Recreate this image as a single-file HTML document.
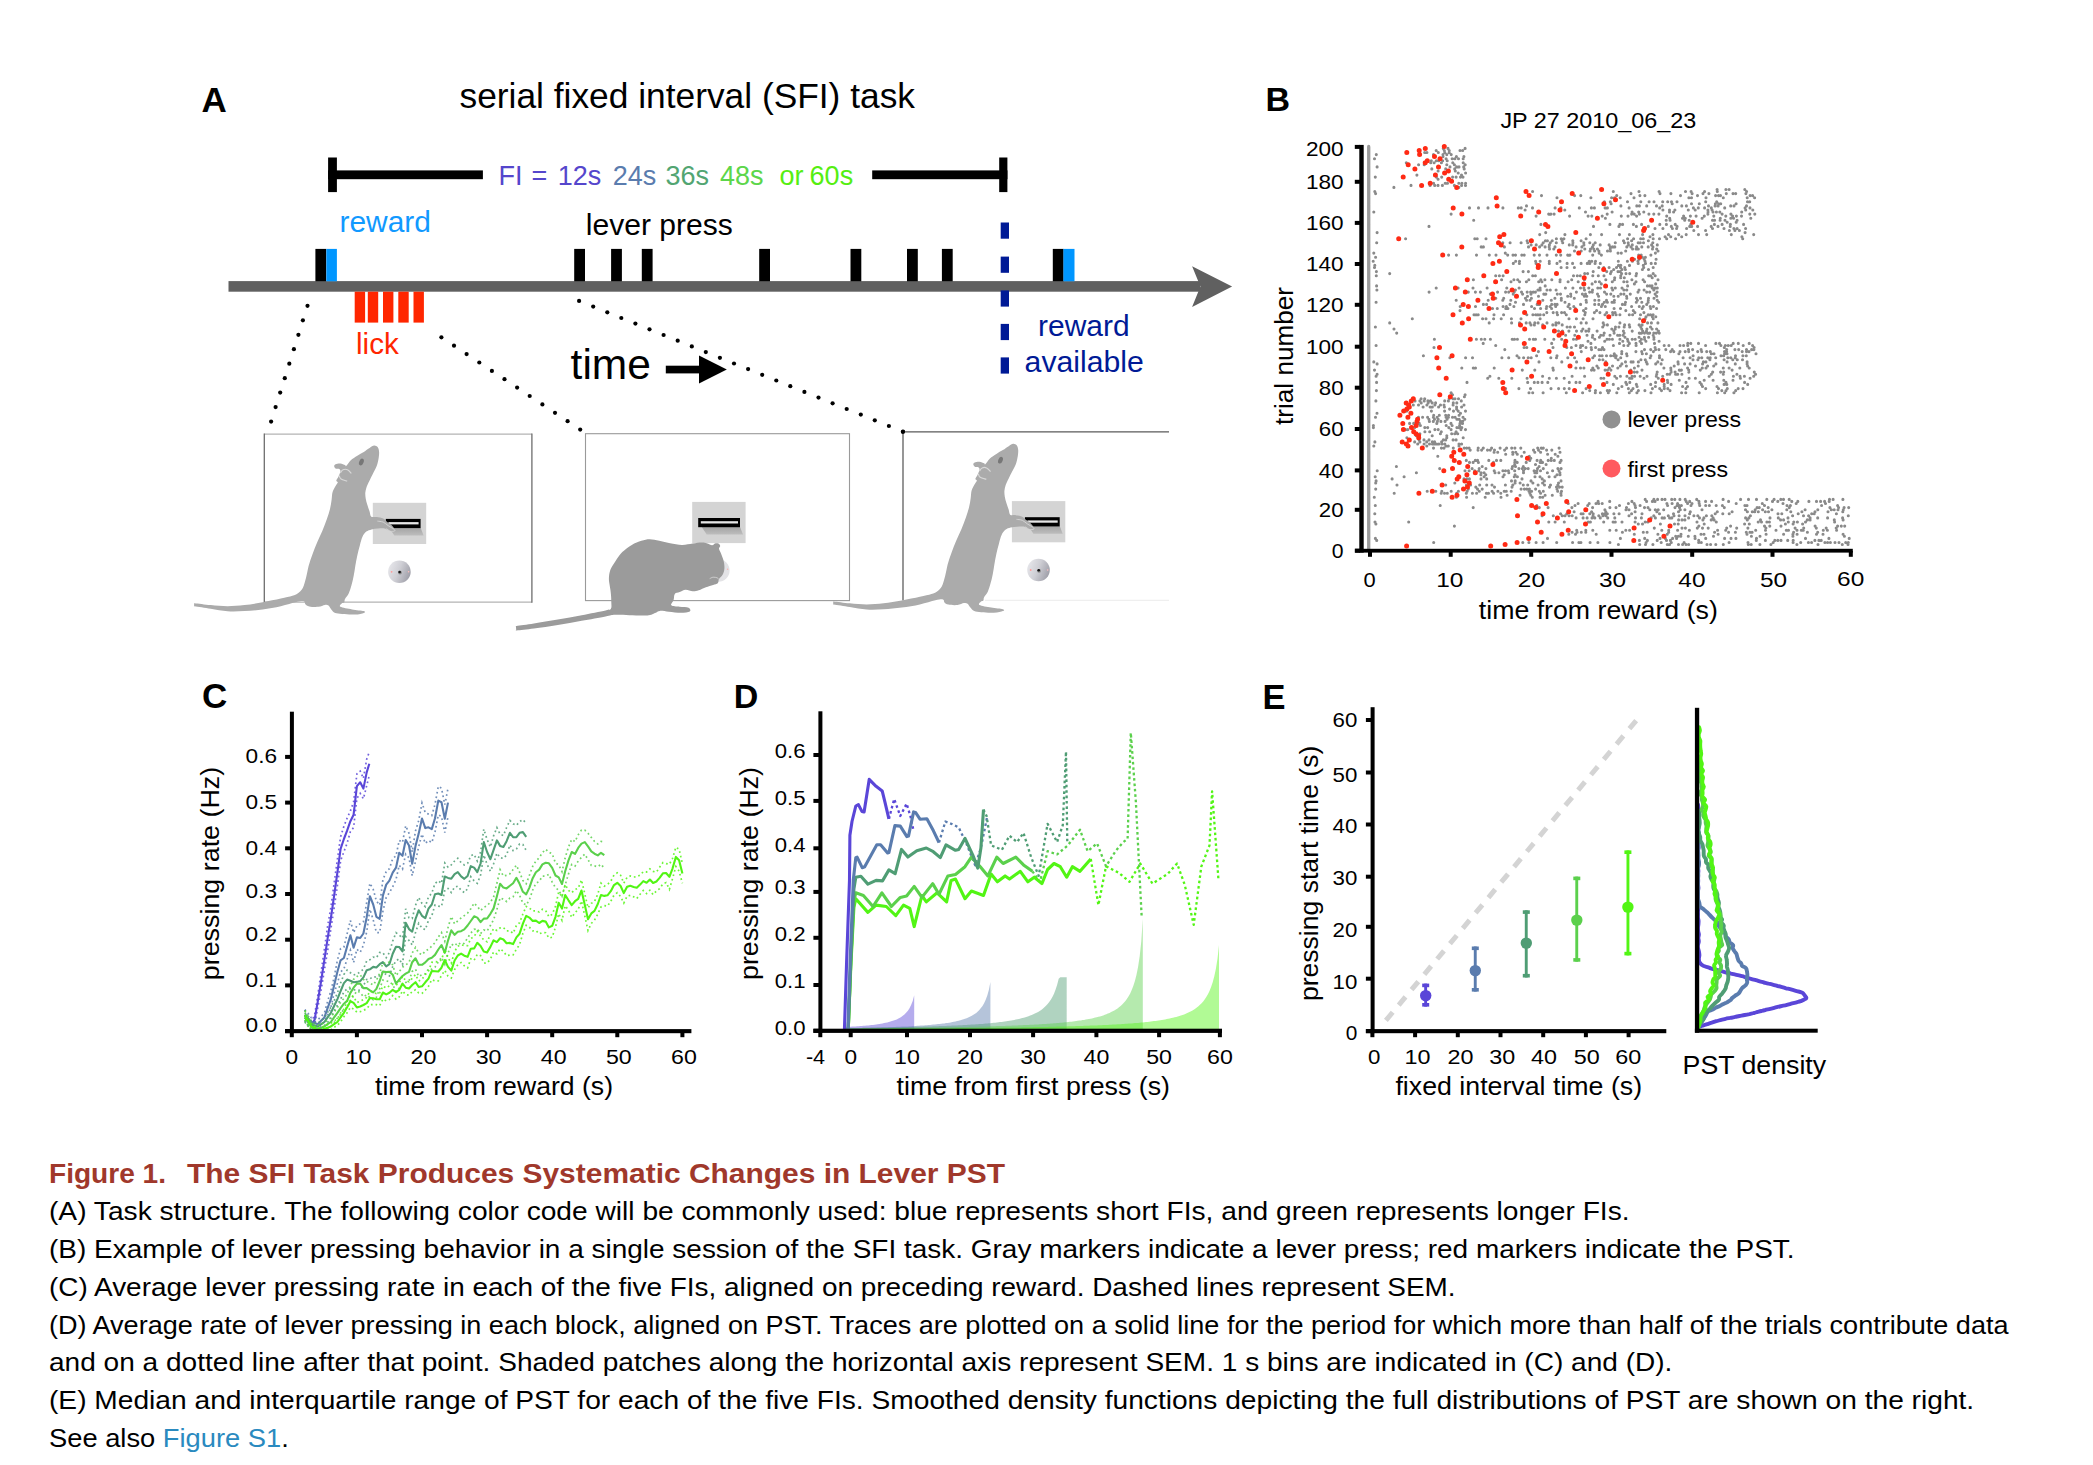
<!DOCTYPE html>
<html lang="en"><head><meta charset="utf-8"><title>Figure 1. The SFI Task Produces Systematic Changes in Lever PST</title>
<style>
html,body{margin:0;padding:0;background:#fff;}
svg{display:block;font-family:'Liberation Sans', sans-serif;}
</style></head><body>
<svg width="2093" height="1465" viewBox="0 0 2093 1465">
<rect width="2093" height="1465" fill="#fff"/>
<g id="panelA">
<text x="201.5" y="112.2" font-size="35" font-weight="bold">A</text>
<text x="459.5" y="107.7" font-size="35" textLength="455.5" lengthAdjust="spacingAndGlyphs">serial fixed interval (SFI) task</text>
<rect x="328.1" y="157.5" width="8.8" height="34.6" fill="#000"/>
<rect x="328.1" y="170.4" width="154.8" height="8.8" fill="#000"/>
<rect x="872.2" y="170.4" width="135.2" height="8.8" fill="#000"/>
<rect x="999.2" y="157.5" width="8.2" height="34.6" fill="#000"/>
<text y="184.6" font-size="27"><tspan x="498.6" fill="#5546cc">FI</tspan><tspan x="531.6" fill="#5546cc">=</tspan><tspan x="557.7" fill="#5546cc">12s</tspan><tspan x="612.8" fill="#5a7cae">24s</tspan><tspan x="665.4" fill="#52a572">36s</tspan><tspan x="719.9" fill="#5cd64a">48s</tspan><tspan x="779.4" fill="#55ee11">or</tspan><tspan x="809.6" fill="#55ee11">60s</tspan></text>
<text x="339.5" y="231.6" font-size="29" fill="#1199ff" textLength="91.4" lengthAdjust="spacingAndGlyphs">reward</text>
<text x="585.8" y="234.9" font-size="29" textLength="147.0" lengthAdjust="spacingAndGlyphs">lever press</text>
<rect x="228.5" y="281.1" width="971.5" height="10.6" fill="#606060"/>
<polygon points="1232.1,286.4 1192.1,266.2 1200.4,286.4 1192.1,306.9" fill="#606060"/>
<rect x="315.4" y="248.9" width="10.8" height="32.4" fill="#000"/>
<rect x="574.2" y="248.9" width="10.8" height="32.4" fill="#000"/>
<rect x="611.1" y="248.9" width="10.8" height="32.4" fill="#000"/>
<rect x="641.8" y="248.9" width="10.8" height="32.4" fill="#000"/>
<rect x="759.2" y="248.9" width="10.8" height="32.4" fill="#000"/>
<rect x="850.5" y="248.9" width="10.8" height="32.4" fill="#000"/>
<rect x="907.0" y="248.9" width="10.8" height="32.4" fill="#000"/>
<rect x="941.9" y="248.9" width="10.8" height="32.4" fill="#000"/>
<rect x="1052.8" y="248.9" width="10.8" height="32.4" fill="#000"/>
<rect x="326.3" y="248.9" width="10.6" height="32.4" fill="#0096ff"/>
<rect x="1063.4" y="248.9" width="11.1" height="32.4" fill="#0096ff"/>
<rect x="354.7" y="291.7" width="10.4" height="30.9" fill="#ff2600"/>
<rect x="367.8" y="291.7" width="10.4" height="30.9" fill="#ff2600"/>
<rect x="383.0" y="291.7" width="10.4" height="30.9" fill="#ff2600"/>
<rect x="398.3" y="291.7" width="10.4" height="30.9" fill="#ff2600"/>
<rect x="413.5" y="291.7" width="10.4" height="30.9" fill="#ff2600"/>
<text x="356.0" y="353.5" font-size="29" fill="#ff2600" textLength="42.8" lengthAdjust="spacingAndGlyphs">lick</text>
<rect x="1000.7" y="222.5" width="8.3" height="16.2" fill="#001a96"/>
<rect x="1000.7" y="256.6" width="8.3" height="16.2" fill="#001a96"/>
<rect x="1000.7" y="290.4" width="8.3" height="16.2" fill="#001a96"/>
<rect x="1000.7" y="323.9" width="8.3" height="16.2" fill="#001a96"/>
<rect x="1000.7" y="357.4" width="8.3" height="16.2" fill="#001a96"/>
<text x="1038.0" y="335.5" font-size="29" fill="#001a96" textLength="91.6" lengthAdjust="spacingAndGlyphs">reward</text>
<text x="1024.6" y="372.1" font-size="29" fill="#001a96" textLength="119.2" lengthAdjust="spacingAndGlyphs">available</text>
<text x="570.6" y="379.3" font-size="42" textLength="80.3" lengthAdjust="spacingAndGlyphs">time</text>
<rect x="665.8" y="365.7" width="37.2" height="7.7" fill="#000"/>
<polygon points="726.8,369.5 699,355.5 699,383.5" fill="#000"/>
<circle cx="307.5" cy="305.8" r="2.1"/>
<circle cx="302.9" cy="320.3" r="2.1"/>
<circle cx="298.4" cy="334.8" r="2.1"/>
<circle cx="293.9" cy="349.2" r="2.1"/>
<circle cx="289.3" cy="363.7" r="2.1"/>
<circle cx="284.8" cy="378.2" r="2.1"/>
<circle cx="280.2" cy="392.6" r="2.1"/>
<circle cx="275.6" cy="407.1" r="2.1"/>
<circle cx="271.1" cy="421.6" r="2.1"/>
<circle cx="441.4" cy="337.3" r="2.1"/>
<circle cx="454.0" cy="345.7" r="2.1"/>
<circle cx="466.6" cy="354.1" r="2.1"/>
<circle cx="479.3" cy="362.5" r="2.1"/>
<circle cx="491.9" cy="370.9" r="2.1"/>
<circle cx="504.5" cy="379.2" r="2.1"/>
<circle cx="517.1" cy="387.6" r="2.1"/>
<circle cx="529.7" cy="396.0" r="2.1"/>
<circle cx="542.4" cy="404.4" r="2.1"/>
<circle cx="555.0" cy="412.8" r="2.1"/>
<circle cx="567.6" cy="421.2" r="2.1"/>
<circle cx="580.2" cy="429.6" r="2.1"/>
<circle cx="579.1" cy="300.9" r="2.1"/>
<circle cx="593.2" cy="306.6" r="2.1"/>
<circle cx="607.3" cy="312.3" r="2.1"/>
<circle cx="621.3" cy="318.0" r="2.1"/>
<circle cx="635.4" cy="323.6" r="2.1"/>
<circle cx="649.5" cy="329.3" r="2.1"/>
<circle cx="663.6" cy="335.0" r="2.1"/>
<circle cx="677.7" cy="340.7" r="2.1"/>
<circle cx="691.8" cy="346.4" r="2.1"/>
<circle cx="705.8" cy="352.1" r="2.1"/>
<circle cx="719.9" cy="357.8" r="2.1"/>
<circle cx="734.0" cy="363.5" r="2.1"/>
<circle cx="748.1" cy="369.1" r="2.1"/>
<circle cx="762.2" cy="374.8" r="2.1"/>
<circle cx="776.3" cy="380.5" r="2.1"/>
<circle cx="790.3" cy="386.2" r="2.1"/>
<circle cx="804.4" cy="391.9" r="2.1"/>
<circle cx="818.5" cy="397.6" r="2.1"/>
<circle cx="832.6" cy="403.3" r="2.1"/>
<circle cx="846.7" cy="409.0" r="2.1"/>
<circle cx="860.8" cy="414.6" r="2.1"/>
<circle cx="874.8" cy="420.3" r="2.1"/>
<circle cx="888.9" cy="426.0" r="2.1"/>
<circle cx="903.0" cy="431.7" r="2.1"/>
</g>
<defs>
<linearGradient id="portg" x1="0" y1="0.3" x2="1" y2="0.7"><stop offset="0" stop-color="#e6e6ea"/><stop offset="0.45" stop-color="#cfcfd5"/><stop offset="1" stop-color="#9c9ca6"/></linearGradient>
<linearGradient id="levg" x1="0" y1="0" x2="0" y2="1"><stop offset="0" stop-color="#a4a4a4"/><stop offset="1" stop-color="#bdbdbd"/></linearGradient>
<g id="rat1"><path d="M374.1,445.6C375.5,445.5 376.9,446.3 377.8,447.3C378.6,448.4 378.9,450.1 379.1,451.9C379.2,453.6 379.1,455.3 378.7,457.7C378.3,460.1 377.7,463.4 376.7,466.1C375.7,468.8 374.0,471.5 372.8,473.9C371.6,476.3 370.6,478.2 369.6,480.4C368.6,482.5 367.3,484.8 366.6,486.9C365.9,488.9 365.5,490.8 365.3,492.7C365.2,494.6 365.4,496.5 365.7,498.5C366.0,500.6 366.7,502.9 367.4,505.0C368.0,507.2 368.9,509.6 369.6,511.5C370.2,513.4 370.1,515.8 371.3,516.7C372.5,517.6 374.7,516.6 376.7,517.0C378.7,517.3 381.5,517.8 383.2,518.6C384.9,519.5 385.8,520.9 387.1,521.9C388.4,522.9 389.8,523.4 391.0,524.5C392.2,525.6 393.6,527.3 394.2,528.4C394.9,529.4 395.2,530.2 394.9,530.7C394.6,531.2 393.4,531.7 392.3,531.6C391.2,531.5 389.7,530.8 388.4,530.3C387.1,529.8 386.2,528.6 384.5,528.4C382.8,528.1 380.2,528.4 378.0,528.6C375.9,528.8 373.5,528.9 371.5,529.4C369.6,529.9 367.9,530.4 366.3,531.6C364.8,532.8 363.5,534.5 362.5,536.8C361.4,539.1 360.7,542.1 359.9,545.2C359.0,548.4 358.0,552.1 357.3,555.6C356.5,559.0 355.9,562.5 355.3,566.0C354.7,569.4 354.3,573.1 353.6,576.3C353.0,579.6 352.2,582.6 351.4,585.4C350.6,588.2 349.9,590.9 348.8,593.2C347.8,595.5 345.7,597.5 345.0,599.0C344.2,600.5 344.8,601.5 344.3,602.3C343.8,603.0 342.4,602.8 341.7,603.6C341.1,604.3 338.7,605.8 340.4,606.8C342.1,607.8 348.2,608.7 352.1,609.4C356.0,610.1 361.8,610.5 363.8,611.1C365.7,611.7 365.3,612.3 363.8,612.9C362.2,613.5 359.2,614.5 354.7,614.6C350.1,614.7 340.4,614.2 336.5,613.3C332.6,612.4 332.7,610.7 331.3,609.4C330.0,608.1 329.6,606.3 328.5,605.5C327.4,604.8 326.5,604.6 324.9,604.9C323.2,605.1 321.0,606.6 318.4,606.8C315.8,607.1 311.5,606.9 309.3,606.4C307.1,606.0 306.3,605.1 305.4,604.2C304.5,603.4 305.4,601.6 303.8,601.2C302.3,600.9 300.2,601.2 296.3,602.0C292.5,602.8 286.4,604.9 280.8,606.2C275.1,607.4 268.7,608.6 262.6,609.4C256.6,610.2 250.3,610.8 244.5,611.1C238.6,611.4 233.2,611.7 227.6,611.3C222.0,611.0 216.2,609.6 210.7,608.8C205.3,607.9 197.4,606.7 194.7,606.3C191.9,605.9 194.2,606.2 194.1,606.2C194.1,606.1 194.1,606.7 194.1,606.2C194.1,605.7 194.1,603.7 194.1,603.2C194.1,602.7 194.1,603.2 194.1,603.2C194.2,603.2 191.9,602.9 194.7,603.2C197.4,603.5 205.3,604.6 210.7,605.1C216.2,605.6 222.0,606.2 227.6,606.2C233.2,606.2 238.6,605.8 244.5,605.1C250.3,604.5 256.6,603.4 262.6,602.3C268.7,601.2 275.8,599.7 280.8,598.6C285.7,597.6 289.6,596.7 292.4,595.8C295.2,594.9 295.9,594.8 297.6,593.5C299.4,592.2 301.4,590.6 302.8,588.0C304.2,585.4 305.1,581.3 306.1,577.6C307.0,574.0 307.6,569.9 308.6,566.0C309.7,562.1 311.1,558.2 312.5,554.3C313.9,550.4 315.5,546.5 317.1,542.6C318.7,538.7 320.6,534.8 322.3,531.0C323.9,527.1 325.5,523.0 326.8,519.3C328.1,515.6 329.2,512.2 330.0,508.9C330.8,505.7 331.2,502.6 331.6,499.8C332.0,497.0 331.9,494.4 332.6,492.1C333.3,489.7 335.0,487.2 335.9,485.6C336.7,483.9 337.8,483.2 337.8,482.3C337.9,481.5 336.2,481.6 336.3,480.6C336.4,479.7 337.8,478.0 338.5,476.5C339.2,474.9 340.3,472.6 340.4,471.3C340.5,470.1 339.9,469.4 339.1,469.0C338.4,468.5 336.7,469.1 335.9,468.7C335.1,468.3 334.3,467.1 334.2,466.4C334.1,465.6 334.5,464.7 335.5,464.2C336.5,463.7 338.8,463.4 340.4,463.5C342.0,463.7 344.0,464.7 345.0,465.1C345.9,465.5 345.3,466.9 346.2,466.1C347.2,465.3 349.0,462.0 350.8,460.3C352.6,458.6 355.1,457.2 357.3,455.7C359.4,454.3 361.7,453.2 363.8,451.9C365.8,450.6 367.9,449.0 369.6,448.0C371.3,446.9 372.8,445.7 374.1,445.6Z" fill="#ababab"/>
<ellipse cx="361.4" cy="462.0" rx="2.2" ry="3.5" transform="rotate(22 361.4 462.0)" fill="#777"/>
<path d="M340.4,472.9C340.8,472.3 341.8,470.3 343.0,469.8C344.2,469.2 346.1,469.1 347.5,469.8C349.0,470.4 350.8,472.8 351.4,473.4" fill="none" stroke="#d8d8d8" stroke-width="1.2"/>
<path d="M339.1,475.5C339.4,476.1 339.7,478.1 341.1,479.1C342.4,480.0 346.1,480.8 347.2,481.2" fill="none" stroke="#d8d8d8" stroke-width="1.2"/>
<path d="M377.4,521.1C378.3,521.3 381.4,521.4 383.2,522.1C385.0,522.9 386.6,524.6 388.4,525.8C390.2,526.9 392.8,528.3 393.8,529.1C394.9,530.0 395.2,530.6 394.6,531.0C394.0,531.3 391.7,531.6 390.3,531.2C389.0,530.8 387.1,529.1 386.4,528.6" fill="none" stroke="#d6d6d6" stroke-width="0.9"/>
</g>
</defs>
<g id="scenes">
<rect x="372.8" y="502.8" width="53.4" height="41.2" fill="#d4d4d4"/>
<polygon points="389.3,527.8 420.6,527.8 423.6,535.4 394.3,535.4" fill="url(#levg)"/>
<rect x="385.8" y="518.9" width="34.8" height="9.2" fill="#000"/>
<rect x="388.4" y="522.1" width="30.2" height="2.3" fill="#e6e6e6"/>
<circle cx="399.4" cy="571.8" r="11.3" fill="url(#portg)"/>
<circle cx="400.0" cy="572.6" r="1.9" fill="#8a8a8a"/>
<circle cx="399.6" cy="572.0" r="1.3" fill="#111"/>
<circle cx="391.6" cy="571.8" r="0.9" fill="#ff9a9a"/>
<circle cx="408.6" cy="571.8" r="0.8" fill="#ffbcbc"/>
<path d="M264.3,434.1H531.9M264.3,602.2H531.9" stroke="#b4b4b4" stroke-width="1.2" fill="none"/>
<path d="M264.3,433.6V602.8M531.9,433.6V602.8" stroke="#6e6e6e" stroke-width="1.3" fill="none"/>
<use href="#rat1"/>
<rect x="692.2" y="501.9" width="53.4" height="41.2" fill="#d4d4d4"/>
<polygon points="701.7,526.9 740.0,526.9 743.0,534.5 706.7,534.5" fill="url(#levg)"/>
<rect x="698.2" y="518.0" width="41.8" height="9.2" fill="#000"/>
<rect x="700.8" y="521.2" width="37.2" height="2.3" fill="#e6e6e6"/>
<circle cx="718.3" cy="570.5" r="11.3" fill="#e3e3e6"/>
<circle cx="727.6" cy="569.3" r="0.7" fill="#ffb0b0"/>
<rect x="585.5" y="433.7" width="264" height="166.9" fill="none" stroke="#9a9a9a" stroke-width="1.1"/>
<path d="M649.8,539.2C652.7,539.2 655.9,540.1 659.3,540.8C662.7,541.4 666.3,542.5 670.1,543.2C673.8,543.9 678.2,544.9 682.0,544.9C685.8,545.0 689.2,543.9 692.8,543.5C696.3,543.1 700.3,542.3 703.5,542.6C706.7,542.8 710.0,545.0 711.9,545.2C713.8,545.3 713.8,543.8 714.8,543.5C715.9,543.2 717.5,543.1 718.4,543.5C719.3,543.9 720.1,545.0 720.2,545.9C720.3,546.8 718.8,547.3 719.0,548.8C719.2,550.2 720.6,552.4 721.4,554.5C722.2,556.7 723.3,559.3 723.8,561.7C724.3,564.1 724.6,566.6 724.4,568.8C724.2,571.0 723.5,573.1 722.6,574.8C721.7,576.5 719.8,577.6 719.0,579.0C718.2,580.4 718.8,582.2 717.8,583.2C716.8,584.2 715.0,584.3 713.1,585.0C711.1,585.7 708.3,586.5 705.9,587.3C703.5,588.2 700.9,589.7 698.7,590.3C696.5,591.0 694.9,591.4 692.8,591.3C690.6,591.2 687.8,589.6 685.6,589.7C683.4,589.9 681.4,591.4 679.6,592.1C677.8,592.8 675.8,592.6 674.8,593.9C673.8,595.2 674.2,598.0 673.6,599.9C673.0,601.8 670.3,604.1 671.3,605.3C672.2,606.4 676.7,606.4 679.6,606.8C682.5,607.2 686.9,606.9 688.6,607.7C690.3,608.5 691.1,610.7 689.8,611.6C688.5,612.5 684.3,612.8 680.8,612.8C677.3,612.8 672.3,612.2 668.9,611.8C665.4,611.5 662.2,610.7 659.9,610.9C657.6,611.1 657.2,612.3 655.1,613.0C653.0,613.8 651.6,615.1 647.4,615.4C643.1,615.8 634.8,615.3 629.4,615.2C624.1,615.1 619.1,614.6 615.1,614.8C611.1,615.0 611.1,615.4 605.6,616.4C600.0,617.4 589.6,619.4 581.7,620.8C573.7,622.2 565.7,623.7 557.8,625.0C549.8,626.3 540.7,627.6 533.9,628.6C527.0,629.5 519.6,630.2 516.7,630.6C513.7,630.9 516.3,630.7 516.2,630.7C516.1,630.7 516.3,631.5 516.2,630.7C516.2,630.0 516.0,626.9 516.0,626.2C515.9,625.4 515.9,626.2 516.0,626.2C516.1,626.1 513.5,626.5 516.5,626.0C519.4,625.6 527.0,624.6 533.9,623.5C540.8,622.5 549.8,621.0 557.8,619.6C565.7,618.2 573.7,616.7 581.7,615.2C589.6,613.6 600.7,611.5 605.6,610.4C610.4,609.3 610.0,610.2 610.9,608.8C611.9,607.5 611.3,604.8 611.3,602.3C611.3,599.8 611.2,596.7 610.9,593.9C610.7,591.1 610.1,588.1 609.7,585.6C609.4,583.0 608.8,581.0 608.9,578.4C609.0,575.8 609.3,572.8 610.3,570.0C611.4,567.2 613.1,564.7 615.1,561.7C617.1,558.7 619.5,554.9 622.3,552.1C625.1,549.3 628.6,546.8 631.8,544.9C635.0,543.1 638.4,541.7 641.4,540.8C644.4,539.8 646.8,539.2 649.8,539.2Z" fill="#9b9b9b"/>
<path d="M709.7,578.6C710.3,578.4 711.8,577.3 713.1,577.2C714.3,577.1 716.3,577.4 717.2,577.8C718.2,578.2 718.5,579.1 718.8,579.3" fill="none" stroke="#d0d0d0" stroke-width="0.9"/>
<rect x="1011.9" y="501.1" width="53.4" height="41.2" fill="#d4d4d4"/>
<polygon points="1028.4,526.1 1059.7,526.1 1062.7,533.7 1033.4,533.7" fill="url(#levg)"/>
<rect x="1024.9" y="517.2" width="34.8" height="9.2" fill="#000"/>
<rect x="1027.5" y="520.4" width="30.2" height="2.3" fill="#e6e6e6"/>
<circle cx="1038.5" cy="570.0" r="11.3" fill="url(#portg)"/>
<circle cx="1039.1" cy="570.8" r="1.9" fill="#8a8a8a"/>
<circle cx="1038.7" cy="570.2" r="1.3" fill="#111"/>
<circle cx="1030.7" cy="570.0" r="0.9" fill="#ff9a9a"/>
<circle cx="1047.7" cy="570.0" r="0.8" fill="#ffbcbc"/>
<path d="M903,431.8H1169" stroke="#5a5a5a" stroke-width="1.3" fill="none"/>
<path d="M903,431.8V600.4" stroke="#6a6a6a" stroke-width="1.4" fill="none"/>
<path d="M985,600.3H1169" stroke="#ececec" stroke-width="1" fill="none"/>
<circle cx="902.9" cy="431.8" r="2.1"/>
<use href="#rat1" transform="translate(639.1,-1.8)"/>
</g>
<g id="panelB">
<text x="1265.6" y="111.2" font-size="34" font-weight="bold">B</text>
<text x="1500.4" y="128.3" font-size="21.6" textLength="195.8" lengthAdjust="spacingAndGlyphs">JP 27 2010_06_23</text>
<path d="M1618.4,544.5h0M1639.7,544.5h0M1645.5,544.5h0M1652.9,544.5h0M1667.3,544.5h0M1669.6,544.5h0M1678.5,544.5h0M1682.6,544.5h0M1686.0,544.5h0M1688.7,544.5h0M1707.0,544.5h0M1710.6,544.5h0M1715.8,544.5h0M1723.3,544.5h0M1748.3,544.5h0M1751.2,544.5h0M1759.9,544.5h0M1770.9,544.5h0M1796.9,544.5h0M1818.0,544.5h0M1842.3,544.5h0M1848.0,544.5h0M1522.8,542.5h0M1528.9,542.5h0M1536.1,542.5h0M1543.1,542.5h0M1556.7,542.5h0M1572.6,542.5h0M1578.9,542.5h0M1580.9,542.5h0M1590.1,542.5h0M1597.9,542.5h0M1609.9,542.5h0M1646.1,542.5h0M1661.2,542.5h0M1671.3,542.5h0M1684.1,542.5h0M1698.7,542.5h0M1701.3,542.5h0M1729.1,542.5h0M1748.0,542.5h0M1773.2,542.5h0M1793.1,542.5h0M1800.7,542.5h0M1808.4,542.5h0M1811.6,542.5h0M1824.9,542.5h0M1827.6,542.5h0M1830.4,542.5h0M1835.0,542.5h0M1839.0,542.5h0M1845.7,542.5h0M1848.3,542.5h0M1433.7,542.5h0M1376.7,540.4h0M1639.4,540.4h0M1647.4,540.4h0M1657.2,540.4h0M1666.5,540.4h0M1670.4,540.4h0M1698.7,540.4h0M1756.3,540.4h0M1765.4,540.4h0M1774.8,540.4h0M1777.8,540.4h0M1781.0,540.4h0M1787.7,540.4h0M1793.2,540.4h0M1814.9,540.4h0M1818.9,540.4h0M1821.2,540.4h0M1375.4,538.4h0M1547.5,538.4h0M1620.4,538.4h0M1644.7,538.4h0M1660.0,538.4h0M1665.4,538.4h0M1672.6,538.4h0M1676.6,538.4h0M1695.1,538.4h0M1705.7,538.4h0M1724.6,538.4h0M1731.0,538.4h0M1735.9,538.4h0M1756.5,538.4h0M1805.5,538.4h0M1828.9,538.4h0M1849.2,538.4h0M1675.7,536.3h0M1678.3,536.3h0M1680.8,536.3h0M1688.3,536.3h0M1694.9,536.3h0M1713.5,536.3h0M1751.4,536.3h0M1760.0,536.3h0M1792.9,536.3h0M1844.4,536.3h0M1568.8,534.3h0M1575.5,534.3h0M1596.2,534.3h0M1634.3,534.3h0M1657.9,534.3h0M1667.2,534.3h0M1681.0,534.3h0M1701.0,534.3h0M1704.0,534.3h0M1718.1,534.3h0M1747.0,534.3h0M1766.1,534.3h0M1783.6,534.3h0M1792.9,534.3h0M1797.1,534.3h0M1816.5,534.3h0M1823.0,534.3h0M1843.1,534.3h0M1572.1,532.2h0M1577.1,532.2h0M1581.3,532.2h0M1585.8,532.2h0M1622.4,532.2h0M1643.3,532.2h0M1647.1,532.2h0M1668.7,532.2h0M1714.6,532.2h0M1728.6,532.2h0M1735.4,532.2h0M1746.3,532.2h0M1749.9,532.2h0M1752.1,532.2h0M1793.6,532.2h0M1807.4,532.2h0M1817.7,532.2h0M1576.7,530.2h0M1585.8,530.2h0M1592.8,530.2h0M1609.8,530.2h0M1616.2,530.2h0M1625.8,530.2h0M1629.6,530.2h0M1661.8,530.2h0M1668.7,530.2h0M1677.6,530.2h0M1689.4,530.2h0M1717.6,530.2h0M1725.7,530.2h0M1755.7,530.2h0M1765.5,530.2h0M1776.0,530.2h0M1786.3,530.2h0M1788.5,530.2h0M1797.0,530.2h0M1801.3,530.2h0M1803.3,530.2h0M1823.3,530.2h0M1827.4,530.2h0M1836.6,530.2h0M1654.3,528.1h0M1682.0,528.1h0M1685.4,528.1h0M1697.3,528.1h0M1702.5,528.1h0M1708.2,528.1h0M1726.7,528.1h0M1736.7,528.1h0M1747.9,528.1h0M1765.9,528.1h0M1795.1,528.1h0M1803.7,528.1h0M1816.3,528.1h0M1826.2,528.1h0M1836.2,528.1h0M1698.9,526.1h0M1730.6,526.1h0M1764.5,526.1h0M1769.8,526.1h0M1781.0,526.1h0M1815.1,526.1h0M1837.6,526.1h0M1841.3,526.1h0M1844.7,526.1h0M1454.4,526.1h0M1375.9,524.0h0M1638.3,524.0h0M1642.5,524.0h0M1660.4,524.0h0M1674.5,524.0h0M1678.2,524.0h0M1704.2,524.0h0M1744.6,524.0h0M1749.3,524.0h0M1785.4,524.0h0M1793.1,524.0h0M1802.6,524.0h0M1375.0,522.0h0M1548.8,522.0h0M1555.1,522.0h0M1564.3,522.0h0M1588.2,522.0h0M1590.4,522.0h0M1603.7,522.0h0M1613.1,522.0h0M1615.3,522.0h0M1622.0,522.0h0M1635.1,522.0h0M1645.2,522.0h0M1647.9,522.0h0M1697.0,522.0h0M1716.3,522.0h0M1758.2,522.0h0M1761.5,522.0h0M1766.9,522.0h0M1769.4,522.0h0M1788.3,522.0h0M1793.8,522.0h0M1797.4,522.0h0M1805.5,522.0h0M1834.6,522.0h0M1408.7,522.0h0M1678.6,519.9h0M1682.0,519.9h0M1684.9,519.9h0M1702.9,519.9h0M1711.2,519.9h0M1714.1,519.9h0M1747.3,519.9h0M1760.5,519.9h0M1780.6,519.9h0M1783.6,519.9h0M1807.3,519.9h0M1810.1,519.9h0M1834.3,519.9h0M1843.1,519.9h0M1576.1,517.9h0M1583.1,517.9h0M1587.1,517.9h0M1592.0,517.9h0M1594.8,517.9h0M1600.3,517.9h0M1607.7,517.9h0M1614.8,517.9h0M1635.5,517.9h0M1641.4,517.9h0M1651.2,517.9h0M1655.4,517.9h0M1662.1,517.9h0M1664.4,517.9h0M1669.6,517.9h0M1671.8,517.9h0M1688.6,517.9h0M1699.5,517.9h0M1703.9,517.9h0M1713.1,517.9h0M1745.6,517.9h0M1748.9,517.9h0M1770.0,517.9h0M1778.3,517.9h0M1788.0,517.9h0M1810.1,517.9h0M1817.7,517.9h0M1827.6,517.9h0M1842.6,517.9h0M1542.1,515.8h0M1553.3,515.8h0M1562.2,515.8h0M1565.0,515.8h0M1569.1,515.8h0M1572.2,515.8h0M1593.1,515.8h0M1598.8,515.8h0M1602.9,515.8h0M1605.9,515.8h0M1629.0,515.8h0M1653.8,515.8h0M1668.3,515.8h0M1674.0,515.8h0M1679.1,515.8h0M1685.0,515.8h0M1693.9,515.8h0M1697.8,515.8h0M1706.4,515.8h0M1711.8,515.8h0M1750.4,515.8h0M1792.6,515.8h0M1803.5,515.8h0M1808.6,515.8h0M1848.3,515.8h0M1374.8,513.8h0M1560.6,513.8h0M1566.8,513.8h0M1581.1,513.8h0M1583.1,513.8h0M1589.8,513.8h0M1593.2,513.8h0M1602.4,513.8h0M1604.9,513.8h0M1607.3,513.8h0M1613.9,513.8h0M1619.1,513.8h0M1631.6,513.8h0M1642.0,513.8h0M1659.5,513.8h0M1673.5,513.8h0M1689.6,513.8h0M1715.2,513.8h0M1722.8,513.8h0M1729.2,513.8h0M1778.0,513.8h0M1781.8,513.8h0M1798.2,513.8h0M1811.7,513.8h0M1814.2,513.8h0M1836.4,513.8h0M1574.1,511.7h0M1591.6,511.7h0M1605.8,511.7h0M1635.1,511.7h0M1656.9,511.7h0M1678.5,511.7h0M1690.3,511.7h0M1717.3,511.7h0M1732.1,511.7h0M1747.4,511.7h0M1752.3,511.7h0M1754.7,511.7h0M1758.3,511.7h0M1765.3,511.7h0M1768.5,511.7h0M1790.8,511.7h0M1801.9,511.7h0M1815.0,511.7h0M1828.0,511.7h0M1842.8,511.7h0M1604.9,509.7h0M1626.0,509.7h0M1629.0,509.7h0M1649.8,509.7h0M1655.3,509.7h0M1658.2,509.7h0M1663.7,509.7h0M1680.3,509.7h0M1684.9,509.7h0M1702.0,509.7h0M1745.5,509.7h0M1755.2,509.7h0M1762.6,509.7h0M1771.9,509.7h0M1786.8,509.7h0M1805.1,509.7h0M1817.8,509.7h0M1831.3,509.7h0M1834.2,509.7h0M1838.0,509.7h0M1843.3,509.7h0M1539.3,507.6h0M1548.1,507.6h0M1571.9,507.6h0M1592.6,507.6h0M1609.9,507.6h0M1616.0,507.6h0M1626.5,507.6h0M1635.5,507.6h0M1644.5,507.6h0M1648.0,507.6h0M1675.0,507.6h0M1679.5,507.6h0M1724.3,507.6h0M1757.1,507.6h0M1759.3,507.6h0M1768.2,507.6h0M1789.3,507.6h0M1829.9,507.6h0M1838.6,507.6h0M1844.1,507.6h0M1848.7,507.6h0M1473.2,507.6h0M1375.3,505.5h0M1536.8,505.5h0M1575.0,505.5h0M1587.7,505.5h0M1619.5,505.5h0M1635.1,505.5h0M1640.1,505.5h0M1667.6,505.5h0M1677.1,505.5h0M1679.4,505.5h0M1681.4,505.5h0M1691.0,505.5h0M1699.7,505.5h0M1705.7,505.5h0M1709.4,505.5h0M1716.2,505.5h0M1722.4,505.5h0M1744.9,505.5h0M1747.0,505.5h0M1764.5,505.5h0M1787.0,505.5h0M1790.4,505.5h0M1821.6,505.5h0M1837.6,505.5h0M1440.2,505.5h0M1568.2,503.5h0M1578.1,503.5h0M1589.2,503.5h0M1596.0,503.5h0M1598.7,503.5h0M1602.2,503.5h0M1628.4,503.5h0M1634.2,503.5h0M1666.9,503.5h0M1672.1,503.5h0M1677.6,503.5h0M1687.6,503.5h0M1692.0,503.5h0M1699.2,503.5h0M1736.2,503.5h0M1762.3,503.5h0M1783.0,503.5h0M1796.2,503.5h0M1825.5,503.5h0M1598.1,501.4h0M1609.7,501.4h0M1631.9,501.4h0M1646.6,501.4h0M1652.4,501.4h0M1655.0,501.4h0M1686.2,501.4h0M1689.7,501.4h0M1698.9,501.4h0M1705.6,501.4h0M1711.6,501.4h0M1728.6,501.4h0M1772.5,501.4h0M1777.8,501.4h0M1791.8,501.4h0M1797.8,501.4h0M1808.9,501.4h0M1816.5,501.4h0M1820.6,501.4h0M1824.6,501.4h0M1829.2,501.4h0M1645.2,499.4h0M1653.9,499.4h0M1657.6,499.4h0M1662.0,499.4h0M1665.0,499.4h0M1671.7,499.4h0M1674.8,499.4h0M1679.9,499.4h0M1685.2,499.4h0M1696.7,499.4h0M1723.1,499.4h0M1740.6,499.4h0M1748.5,499.4h0M1756.5,499.4h0M1766.8,499.4h0M1774.1,499.4h0M1780.8,499.4h0M1783.5,499.4h0M1789.2,499.4h0M1829.5,499.4h0M1833.1,499.4h0M1842.9,499.4h0M1374.3,497.3h0M1456.4,497.3h0M1466.6,497.3h0M1485.2,497.3h0M1501.0,497.3h0M1532.3,497.3h0M1540.0,497.3h0M1542.7,497.3h0M1507.1,495.3h0M1520.0,495.3h0M1530.8,495.3h0M1545.1,495.3h0M1552.3,495.3h0M1561.1,495.3h0M1441.2,493.2h0M1444.5,493.2h0M1447.3,493.2h0M1456.7,493.2h0M1466.3,493.2h0M1472.4,493.2h0M1476.6,493.2h0M1486.4,493.2h0M1488.5,493.2h0M1493.6,493.2h0M1500.8,493.2h0M1529.9,493.2h0M1540.6,493.2h0M1560.9,493.2h0M1394.2,493.2h0M1435.8,491.2h0M1441.8,491.2h0M1451.2,491.2h0M1458.4,491.2h0M1467.1,491.2h0M1479.3,491.2h0M1492.1,491.2h0M1497.9,491.2h0M1504.2,491.2h0M1506.3,491.2h0M1511.2,491.2h0M1529.0,491.2h0M1531.6,491.2h0M1539.4,491.2h0M1543.3,491.2h0M1557.7,491.2h0M1561.5,491.2h0M1427.2,491.2h0M1375.7,489.1h0M1468.2,489.1h0M1477.5,489.1h0M1482.2,489.1h0M1521.1,489.1h0M1524.4,489.1h0M1526.8,489.1h0M1529.4,489.1h0M1535.6,489.1h0M1557.0,489.1h0M1475.8,487.1h0M1494.5,487.1h0M1512.0,487.1h0M1549.5,487.1h0M1556.5,487.1h0M1559.5,487.1h0M1562.2,487.1h0M1445.7,485.0h0M1466.4,485.0h0M1470.6,485.0h0M1479.7,485.0h0M1486.7,485.0h0M1492.0,485.0h0M1505.4,485.0h0M1512.8,485.0h0M1523.3,485.0h0M1527.7,485.0h0M1538.1,485.0h0M1544.5,485.0h0M1550.5,485.0h0M1557.8,485.0h0M1397.0,485.0h0M1375.7,483.0h0M1515.1,483.0h0M1520.1,483.0h0M1532.9,483.0h0M1542.6,483.0h0M1558.5,483.0h0M1454.8,483.0h0M1376.1,480.9h0M1511.5,480.9h0M1515.2,480.9h0M1531.0,480.9h0M1544.4,480.9h0M1561.0,480.9h0M1464.0,478.9h0M1467.0,478.9h0M1469.4,478.9h0M1481.0,478.9h0M1486.7,478.9h0M1522.0,478.9h0M1542.2,478.9h0M1392.1,478.9h0M1375.2,476.8h0M1484.1,476.8h0M1503.0,476.8h0M1514.3,476.8h0M1517.4,476.8h0M1535.0,476.8h0M1540.0,476.8h0M1549.1,476.8h0M1555.0,476.8h0M1404.1,476.8h0M1480.9,474.8h0M1485.8,474.8h0M1504.2,474.8h0M1515.1,474.8h0M1557.0,474.8h0M1560.0,474.8h0M1481.0,472.7h0M1484.1,472.7h0M1495.0,472.7h0M1498.9,472.7h0M1508.8,472.7h0M1523.5,472.7h0M1534.8,472.7h0M1536.8,472.7h0M1547.4,472.7h0M1559.9,472.7h0M1416.4,472.7h0M1377.2,470.7h0M1465.0,470.7h0M1469.1,470.7h0M1474.7,470.7h0M1478.7,470.7h0M1494.2,470.7h0M1502.9,470.7h0M1505.5,470.7h0M1508.4,470.7h0M1514.7,470.7h0M1523.5,470.7h0M1534.1,470.7h0M1536.9,470.7h0M1540.5,470.7h0M1552.6,470.7h0M1559.0,470.7h0M1472.1,468.6h0M1479.2,468.6h0M1485.9,468.6h0M1512.0,468.6h0M1518.9,468.6h0M1522.3,468.6h0M1525.3,468.6h0M1528.2,468.6h0M1537.5,468.6h0M1543.3,468.6h0M1557.9,468.6h0M1561.1,468.6h0M1439.7,468.6h0M1482.2,466.5h0M1512.5,466.5h0M1515.5,466.5h0M1523.3,466.5h0M1539.1,466.5h0M1396.4,466.5h0M1514.7,464.5h0M1535.5,464.5h0M1546.1,464.5h0M1469.5,462.4h0M1473.1,462.4h0M1478.4,462.4h0M1493.5,462.4h0M1514.8,462.4h0M1517.2,462.4h0M1526.2,462.4h0M1540.2,462.4h0M1542.5,462.4h0M1560.0,462.4h0M1466.3,460.4h0M1475.3,460.4h0M1477.6,460.4h0M1488.8,460.4h0M1496.5,460.4h0M1500.8,460.4h0M1515.0,460.4h0M1529.8,460.4h0M1537.1,460.4h0M1540.7,460.4h0M1548.2,460.4h0M1551.2,460.4h0M1554.3,460.4h0M1561.1,460.4h0M1530.8,458.3h0M1551.3,458.3h0M1521.6,456.3h0M1529.3,456.3h0M1557.9,456.3h0M1437.8,456.3h0M1505.7,454.2h0M1512.8,454.2h0M1517.3,454.2h0M1547.6,454.2h0M1555.2,454.2h0M1494.1,452.2h0M1497.7,452.2h0M1512.7,452.2h0M1515.8,452.2h0M1524.2,452.2h0M1534.8,452.2h0M1540.6,452.2h0M1560.0,452.2h0M1470.2,450.1h0M1478.0,450.1h0M1481.6,450.1h0M1487.5,450.1h0M1490.3,450.1h0M1494.5,450.1h0M1504.6,450.1h0M1533.5,450.1h0M1538.5,450.1h0M1546.6,450.1h0M1551.8,450.1h0M1433.5,448.1h0M1441.4,448.1h0M1444.0,448.1h0M1453.3,448.1h0M1464.2,448.1h0M1466.7,448.1h0M1469.1,448.1h0M1478.2,448.1h0M1483.3,448.1h0M1491.6,448.1h0M1500.1,448.1h0M1506.6,448.1h0M1511.7,448.1h0M1514.9,448.1h0M1520.8,448.1h0M1537.7,448.1h0M1541.2,448.1h0M1543.3,448.1h0M1559.1,448.1h0M1373.8,446.0h0M1426.8,446.0h0M1446.0,446.0h0M1448.3,446.0h0M1459.0,446.0h0M1417.7,444.0h0M1424.1,444.0h0M1429.5,444.0h0M1432.4,444.0h0M1434.4,444.0h0M1436.7,444.0h0M1438.9,444.0h0M1441.9,444.0h0M1444.8,444.0h0M1459.0,444.0h0M1461.6,444.0h0M1374.9,441.9h0M1414.7,441.9h0M1419.9,441.9h0M1426.7,441.9h0M1432.3,441.9h0M1434.6,441.9h0M1441.6,441.9h0M1419.1,439.9h0M1424.0,439.9h0M1429.0,439.9h0M1443.3,439.9h0M1445.7,439.9h0M1453.1,439.9h0M1456.1,439.9h0M1446.8,437.8h0M1463.2,437.8h0M1406.9,437.8h0M1432.2,435.8h0M1446.8,435.8h0M1416.2,435.8h0M1419.9,433.7h0M1440.4,433.7h0M1451.7,433.7h0M1454.8,433.7h0M1457.7,433.7h0M1424.9,431.7h0M1429.7,431.7h0M1441.3,431.7h0M1456.1,431.7h0M1405.5,429.6h0M1407.8,429.6h0M1434.9,429.6h0M1438.2,429.6h0M1451.1,429.6h0M1461.0,429.6h0M1465.5,429.6h0M1373.4,427.6h0M1414.7,427.6h0M1424.8,427.6h0M1427.7,427.6h0M1448.8,427.6h0M1456.9,427.6h0M1459.0,427.6h0M1461.8,427.6h0M1373.4,425.5h0M1420.4,425.5h0M1446.2,425.5h0M1452.1,425.5h0M1459.6,425.5h0M1409.6,423.4h0M1413.7,423.4h0M1417.1,423.4h0M1419.3,423.4h0M1436.8,423.4h0M1451.0,423.4h0M1460.0,423.4h0M1462.5,423.4h0M1429.4,421.4h0M1433.3,421.4h0M1437.4,421.4h0M1440.9,421.4h0M1445.1,421.4h0M1460.5,421.4h0M1462.7,421.4h0M1428.9,419.3h0M1434.5,419.3h0M1438.2,419.3h0M1447.1,419.3h0M1456.9,419.3h0M1459.1,419.3h0M1464.8,419.3h0M1375.5,417.3h0M1418.5,417.3h0M1422.6,417.3h0M1427.6,417.3h0M1433.4,417.3h0M1437.1,417.3h0M1446.1,417.3h0M1448.4,417.3h0M1452.5,417.3h0M1455.1,417.3h0M1463.0,417.3h0M1433.7,415.2h0M1439.3,415.2h0M1445.7,415.2h0M1448.6,415.2h0M1459.1,415.2h0M1377.0,413.2h0M1460.5,413.2h0M1406.8,411.1h0M1431.4,411.1h0M1444.6,411.1h0M1453.5,411.1h0M1458.2,411.1h0M1465.5,411.1h0M1449.6,409.1h0M1456.6,409.1h0M1423.1,407.0h0M1430.1,407.0h0M1432.3,407.0h0M1438.6,407.0h0M1444.4,407.0h0M1456.6,407.0h0M1461.6,407.0h0M1413.3,405.0h0M1418.5,405.0h0M1426.9,405.0h0M1434.9,405.0h0M1440.5,405.0h0M1444.0,405.0h0M1453.1,405.0h0M1464.0,405.0h0M1421.2,402.9h0M1428.1,402.9h0M1432.2,402.9h0M1435.6,402.9h0M1453.3,402.9h0M1456.8,402.9h0M1375.9,400.9h0M1415.0,400.9h0M1419.9,400.9h0M1424.2,400.9h0M1427.9,400.9h0M1430.5,400.9h0M1444.7,400.9h0M1448.4,400.9h0M1461.3,400.9h0M1421.1,398.8h0M1424.7,398.8h0M1449.1,398.8h0M1452.9,398.8h0M1455.0,398.8h0M1458.5,398.8h0M1464.4,396.8h0M1452.5,394.7h0M1465.1,394.7h0M1529.0,392.7h0M1532.7,392.7h0M1543.1,392.7h0M1566.3,392.7h0M1582.6,392.7h0M1595.3,392.7h0M1600.4,392.7h0M1608.3,392.7h0M1616.8,392.7h0M1629.3,392.7h0M1636.9,392.7h0M1651.0,392.7h0M1681.6,392.7h0M1685.8,392.7h0M1699.2,392.7h0M1717.4,392.7h0M1724.7,392.7h0M1733.9,392.7h0M1451.1,392.7h0M1376.4,390.6h0M1589.7,390.6h0M1595.5,390.6h0M1607.3,390.6h0M1609.5,390.6h0M1631.4,390.6h0M1638.4,390.6h0M1644.9,390.6h0M1661.5,390.6h0M1670.0,390.6h0M1721.8,390.6h0M1726.0,390.6h0M1735.7,390.6h0M1505.6,388.6h0M1518.9,388.6h0M1530.5,388.6h0M1551.0,388.6h0M1558.6,388.6h0M1564.3,388.6h0M1569.2,388.6h0M1586.1,388.6h0M1618.3,388.6h0M1628.4,388.6h0M1633.0,388.6h0M1652.4,388.6h0M1659.7,388.6h0M1664.3,388.6h0M1667.8,388.6h0M1685.9,388.6h0M1705.7,388.6h0M1718.5,388.6h0M1727.3,388.6h0M1738.2,388.6h0M1743.0,388.6h0M1621.9,386.5h0M1637.1,386.5h0M1655.4,386.5h0M1664.2,386.5h0M1682.6,386.5h0M1687.5,386.5h0M1702.5,386.5h0M1717.0,386.5h0M1613.3,384.4h0M1626.7,384.4h0M1636.4,384.4h0M1650.7,384.4h0M1664.2,384.4h0M1671.1,384.4h0M1701.4,384.4h0M1724.1,384.4h0M1726.8,384.4h0M1747.7,384.4h0M1376.6,382.4h0M1527.7,382.4h0M1534.3,382.4h0M1537.9,382.4h0M1542.1,382.4h0M1547.8,382.4h0M1569.3,382.4h0M1576.0,382.4h0M1579.8,382.4h0M1607.0,382.4h0M1625.8,382.4h0M1629.8,382.4h0M1655.6,382.4h0M1667.7,382.4h0M1686.0,382.4h0M1699.9,382.4h0M1726.0,382.4h0M1744.6,382.4h0M1467.0,382.4h0M1667.4,380.3h0M1679.3,380.3h0M1704.2,380.3h0M1713.1,380.3h0M1723.8,380.3h0M1733.0,380.3h0M1487.7,378.3h0M1498.8,378.3h0M1511.8,378.3h0M1527.1,378.3h0M1549.3,378.3h0M1556.4,378.3h0M1564.2,378.3h0M1601.0,378.3h0M1603.8,378.3h0M1616.7,378.3h0M1629.6,378.3h0M1631.9,378.3h0M1644.0,378.3h0M1658.3,378.3h0M1689.1,378.3h0M1695.4,378.3h0M1740.4,378.3h0M1750.1,378.3h0M1376.1,376.2h0M1542.6,376.2h0M1572.1,376.2h0M1584.6,376.2h0M1614.8,376.2h0M1620.4,376.2h0M1626.9,376.2h0M1632.0,376.2h0M1634.6,376.2h0M1640.2,376.2h0M1647.0,376.2h0M1656.3,376.2h0M1662.7,376.2h0M1709.2,376.2h0M1733.4,376.2h0M1740.0,376.2h0M1744.4,376.2h0M1753.7,376.2h0M1489.9,376.2h0M1377.1,374.2h0M1656.7,374.2h0M1667.2,374.2h0M1669.7,374.2h0M1675.6,374.2h0M1677.7,374.2h0M1681.9,374.2h0M1711.3,374.2h0M1723.3,374.2h0M1736.9,374.2h0M1755.6,374.2h0M1634.3,372.1h0M1637.1,372.1h0M1657.2,372.1h0M1671.1,372.1h0M1675.1,372.1h0M1688.8,372.1h0M1712.7,372.1h0M1720.6,372.1h0M1723.7,372.1h0M1754.3,372.1h0M1374.5,370.1h0M1522.3,370.1h0M1534.8,370.1h0M1553.3,370.1h0M1591.5,370.1h0M1594.1,370.1h0M1605.1,370.1h0M1607.5,370.1h0M1610.9,370.1h0M1630.8,370.1h0M1642.0,370.1h0M1670.9,370.1h0M1679.3,370.1h0M1681.4,370.1h0M1688.7,370.1h0M1700.3,370.1h0M1732.1,370.1h0M1461.8,368.0h0M1473.3,368.0h0M1475.5,368.0h0M1494.2,368.0h0M1552.9,368.0h0M1575.9,368.0h0M1580.5,368.0h0M1583.9,368.0h0M1592.8,368.0h0M1598.3,368.0h0M1609.3,368.0h0M1617.8,368.0h0M1634.4,368.0h0M1663.9,368.0h0M1670.8,368.0h0M1687.6,368.0h0M1702.3,368.0h0M1706.0,368.0h0M1723.3,368.0h0M1729.1,368.0h0M1739.8,368.0h0M1749.2,368.0h0M1596.9,366.0h0M1612.5,366.0h0M1620.3,366.0h0M1626.4,366.0h0M1638.2,366.0h0M1674.2,366.0h0M1695.5,366.0h0M1707.6,366.0h0M1713.7,366.0h0M1747.6,366.0h0M1377.1,363.9h0M1621.9,363.9h0M1647.2,363.9h0M1655.7,363.9h0M1661.1,363.9h0M1678.2,363.9h0M1684.6,363.9h0M1690.1,363.9h0M1702.6,363.9h0M1715.9,363.9h0M1735.3,363.9h0M1747.1,363.9h0M1373.8,361.9h0M1539.0,361.9h0M1561.8,361.9h0M1576.6,361.9h0M1605.8,361.9h0M1625.5,361.9h0M1631.1,361.9h0M1633.1,361.9h0M1638.4,361.9h0M1646.3,361.9h0M1657.8,361.9h0M1678.0,361.9h0M1703.4,361.9h0M1705.9,361.9h0M1727.1,361.9h0M1747.1,361.9h0M1599.4,359.8h0M1602.9,359.8h0M1618.1,359.8h0M1640.9,359.8h0M1645.3,359.8h0M1662.2,359.8h0M1693.0,359.8h0M1697.9,359.8h0M1709.9,359.8h0M1724.1,359.8h0M1732.8,359.8h0M1737.3,359.8h0M1742.5,359.8h0M1449.9,357.8h0M1465.6,357.8h0M1472.5,357.8h0M1501.9,357.8h0M1508.7,357.8h0M1519.0,357.8h0M1523.6,357.8h0M1528.2,357.8h0M1531.2,357.8h0M1550.8,357.8h0M1556.5,357.8h0M1567.8,357.8h0M1574.6,357.8h0M1592.8,357.8h0M1615.7,357.8h0M1620.7,357.8h0M1650.2,357.8h0M1659.5,357.8h0M1683.1,357.8h0M1690.1,357.8h0M1698.8,357.8h0M1701.8,357.8h0M1707.8,357.8h0M1710.2,357.8h0M1715.7,357.8h0M1727.8,357.8h0M1730.8,357.8h0M1735.3,357.8h0M1517.0,355.7h0M1536.6,355.7h0M1557.0,355.7h0M1594.5,355.7h0M1599.7,355.7h0M1602.1,355.7h0M1606.5,355.7h0M1610.7,355.7h0M1613.6,355.7h0M1616.2,355.7h0M1627.0,355.7h0M1650.9,355.7h0M1659.5,355.7h0M1693.1,355.7h0M1721.0,355.7h0M1723.7,355.7h0M1735.5,355.7h0M1742.9,355.7h0M1746.3,355.7h0M1423.4,355.7h0M1614.3,353.7h0M1621.7,353.7h0M1626.6,353.7h0M1642.3,353.7h0M1646.4,353.7h0M1678.9,353.7h0M1711.3,353.7h0M1714.0,353.7h0M1724.6,353.7h0M1727.0,353.7h0M1756.0,353.7h0M1581.3,351.6h0M1621.8,351.6h0M1635.9,351.6h0M1641.7,351.6h0M1653.4,351.6h0M1670.6,351.6h0M1673.8,351.6h0M1680.0,351.6h0M1685.2,351.6h0M1688.7,351.6h0M1697.7,351.6h0M1701.7,351.6h0M1706.7,351.6h0M1710.3,351.6h0M1724.5,351.6h0M1726.6,351.6h0M1742.2,351.6h0M1746.5,351.6h0M1749.0,351.6h0M1538.4,351.6h0M1591.5,349.6h0M1598.9,349.6h0M1601.2,349.6h0M1604.0,349.6h0M1644.5,349.6h0M1650.7,349.6h0M1655.6,349.6h0M1658.9,349.6h0M1665.8,349.6h0M1672.2,349.6h0M1688.5,349.6h0M1692.6,349.6h0M1701.1,349.6h0M1726.7,349.6h0M1734.9,349.6h0M1738.7,349.6h0M1746.5,349.6h0M1751.6,349.6h0M1753.9,349.6h0M1504.8,349.6h0M1524.1,347.5h0M1526.8,347.5h0M1553.0,347.5h0M1566.8,347.5h0M1571.4,347.5h0M1580.4,347.5h0M1586.0,347.5h0M1591.2,347.5h0M1595.6,347.5h0M1602.5,347.5h0M1655.1,347.5h0M1724.3,347.5h0M1754.1,347.5h0M1434.0,347.5h0M1376.1,345.5h0M1576.0,345.5h0M1580.7,345.5h0M1582.7,345.5h0M1613.4,345.5h0M1623.8,345.5h0M1628.0,345.5h0M1636.1,345.5h0M1664.2,345.5h0M1668.9,345.5h0M1680.0,345.5h0M1683.6,345.5h0M1687.7,345.5h0M1705.6,345.5h0M1720.9,345.5h0M1725.3,345.5h0M1728.2,345.5h0M1731.2,345.5h0M1743.2,345.5h0M1752.6,345.5h0M1495.7,345.5h0M1551.7,343.4h0M1564.7,343.4h0M1590.9,343.4h0M1619.5,343.4h0M1629.4,343.4h0M1636.0,343.4h0M1641.5,343.4h0M1654.5,343.4h0M1687.8,343.4h0M1690.8,343.4h0M1698.5,343.4h0M1715.9,343.4h0M1719.5,343.4h0M1733.2,343.4h0M1738.3,343.4h0M1749.2,343.4h0M1483.2,343.4h0M1588.0,341.3h0M1604.7,341.3h0M1622.8,341.3h0M1628.0,341.3h0M1640.0,341.3h0M1645.9,341.3h0M1659.1,341.3h0M1476.4,339.3h0M1481.3,339.3h0M1484.8,339.3h0M1490.4,339.3h0M1512.2,339.3h0M1514.5,339.3h0M1517.4,339.3h0M1529.5,339.3h0M1533.3,339.3h0M1535.5,339.3h0M1544.8,339.3h0M1553.8,339.3h0M1561.7,339.3h0M1573.5,339.3h0M1576.4,339.3h0M1594.8,339.3h0M1607.0,339.3h0M1609.4,339.3h0M1612.4,339.3h0M1619.9,339.3h0M1627.5,339.3h0M1632.2,339.3h0M1635.2,339.3h0M1641.4,339.3h0M1644.6,339.3h0M1653.9,339.3h0M1434.4,339.3h0M1592.4,337.2h0M1599.4,337.2h0M1625.0,337.2h0M1639.1,337.2h0M1644.4,337.2h0M1648.6,337.2h0M1653.9,337.2h0M1565.6,335.2h0M1574.8,335.2h0M1587.0,335.2h0M1592.7,335.2h0M1600.8,335.2h0M1603.4,335.2h0M1610.0,335.2h0M1617.6,335.2h0M1619.8,335.2h0M1623.1,335.2h0M1653.2,335.2h0M1604.2,333.1h0M1614.1,333.1h0M1624.1,333.1h0M1639.3,333.1h0M1641.6,333.1h0M1644.5,333.1h0M1647.5,333.1h0M1649.7,333.1h0M1653.8,333.1h0M1656.2,333.1h0M1659.2,333.1h0M1396.7,333.1h0M1558.5,331.1h0M1562.5,331.1h0M1568.9,331.1h0M1576.5,331.1h0M1581.6,331.1h0M1585.9,331.1h0M1588.7,331.1h0M1597.1,331.1h0M1613.8,331.1h0M1623.4,331.1h0M1632.2,331.1h0M1642.7,331.1h0M1646.5,331.1h0M1658.5,331.1h0M1582.9,329.0h0M1589.0,329.0h0M1611.8,329.0h0M1615.2,329.0h0M1641.7,329.0h0M1646.9,329.0h0M1652.1,329.0h0M1656.6,329.0h0M1394.0,329.0h0M1375.4,327.0h0M1567.1,327.0h0M1570.2,327.0h0M1574.5,327.0h0M1602.7,327.0h0M1615.5,327.0h0M1618.9,327.0h0M1624.2,327.0h0M1629.7,327.0h0M1640.8,327.0h0M1650.5,327.0h0M1531.0,324.9h0M1534.4,324.9h0M1542.7,324.9h0M1552.8,324.9h0M1555.9,324.9h0M1562.2,324.9h0M1604.0,324.9h0M1607.4,324.9h0M1624.6,324.9h0M1629.3,324.9h0M1639.1,324.9h0M1642.1,324.9h0M1489.2,322.9h0M1511.6,322.9h0M1519.5,322.9h0M1526.2,322.9h0M1529.9,322.9h0M1534.8,322.9h0M1538.1,322.9h0M1547.0,322.9h0M1556.0,322.9h0M1558.8,322.9h0M1581.1,322.9h0M1586.3,322.9h0M1603.2,322.9h0M1619.9,322.9h0M1647.6,322.9h0M1651.4,322.9h0M1657.9,322.9h0M1389.7,322.9h0M1482.6,318.8h0M1486.0,318.8h0M1493.6,318.8h0M1501.2,318.8h0M1511.4,318.8h0M1521.0,318.8h0M1540.1,318.8h0M1569.0,318.8h0M1576.4,318.8h0M1583.1,318.8h0M1593.0,318.8h0M1639.7,318.8h0M1645.1,318.8h0M1653.2,318.8h0M1412.3,318.8h0M1646.0,316.7h0M1652.4,316.7h0M1655.8,316.7h0M1474.0,314.7h0M1476.1,314.7h0M1478.2,314.7h0M1494.0,314.7h0M1503.6,314.7h0M1526.8,314.7h0M1532.9,314.7h0M1535.8,314.7h0M1537.9,314.7h0M1540.2,314.7h0M1543.7,314.7h0M1557.5,314.7h0M1566.3,314.7h0M1584.8,314.7h0M1605.0,314.7h0M1612.8,314.7h0M1616.1,314.7h0M1619.9,314.7h0M1629.3,314.7h0M1632.6,314.7h0M1640.5,314.7h0M1648.2,314.7h0M1650.5,314.7h0M1653.1,314.7h0M1546.8,312.6h0M1553.2,312.6h0M1556.9,312.6h0M1561.6,312.6h0M1564.5,312.6h0M1585.3,312.6h0M1594.4,312.6h0M1599.9,312.6h0M1606.7,312.6h0M1612.6,312.6h0M1615.1,312.6h0M1634.9,312.6h0M1643.9,312.6h0M1583.5,310.6h0M1596.6,310.6h0M1625.8,310.6h0M1633.3,310.6h0M1460.0,310.6h0M1492.5,308.5h0M1497.3,308.5h0M1505.8,308.5h0M1507.9,308.5h0M1534.5,308.5h0M1540.6,308.5h0M1546.3,308.5h0M1551.6,308.5h0M1570.1,308.5h0M1575.4,308.5h0M1585.9,308.5h0M1614.1,308.5h0M1620.5,308.5h0M1642.2,308.5h0M1650.7,308.5h0M1656.6,308.5h0M1475.5,306.5h0M1503.1,306.5h0M1506.4,306.5h0M1513.9,306.5h0M1531.6,306.5h0M1546.7,306.5h0M1550.1,306.5h0M1555.7,306.5h0M1568.0,306.5h0M1573.8,306.5h0M1601.4,306.5h0M1605.3,306.5h0M1631.6,306.5h0M1639.3,306.5h0M1643.3,306.5h0M1650.2,306.5h0M1653.4,306.5h0M1460.2,306.5h0M1483.4,304.4h0M1486.6,304.4h0M1510.0,304.4h0M1523.5,304.4h0M1537.2,304.4h0M1539.5,304.4h0M1551.7,304.4h0M1554.9,304.4h0M1557.1,304.4h0M1569.1,304.4h0M1580.6,304.4h0M1594.7,304.4h0M1598.8,304.4h0M1602.5,304.4h0M1622.4,304.4h0M1625.0,304.4h0M1646.7,304.4h0M1376.1,302.3h0M1565.0,302.3h0M1586.4,302.3h0M1604.3,302.3h0M1607.4,302.3h0M1612.0,302.3h0M1614.3,302.3h0M1625.5,302.3h0M1636.3,302.3h0M1641.8,302.3h0M1648.1,302.3h0M1658.7,302.3h0M1515.5,302.3h0M1488.2,300.3h0M1502.8,300.3h0M1510.8,300.3h0M1526.6,300.3h0M1530.0,300.3h0M1542.8,300.3h0M1551.3,300.3h0M1561.3,300.3h0M1586.1,300.3h0M1594.8,300.3h0M1598.9,300.3h0M1606.5,300.3h0M1614.4,300.3h0M1637.4,300.3h0M1648.3,300.3h0M1657.2,300.3h0M1456.2,300.3h0M1495.8,298.2h0M1503.7,298.2h0M1525.4,298.2h0M1531.4,298.2h0M1554.9,298.2h0M1561.3,298.2h0M1574.3,298.2h0M1626.8,298.2h0M1636.5,298.2h0M1640.5,298.2h0M1648.5,298.2h0M1654.0,298.2h0M1527.5,296.2h0M1538.5,296.2h0M1567.7,296.2h0M1570.8,296.2h0M1584.4,296.2h0M1586.8,296.2h0M1598.6,296.2h0M1613.8,296.2h0M1618.2,296.2h0M1626.6,296.2h0M1656.7,296.2h0M1513.2,294.1h0M1522.6,294.1h0M1531.0,294.1h0M1543.8,294.1h0M1545.8,294.1h0M1557.3,294.1h0M1560.5,294.1h0M1570.7,294.1h0M1582.4,294.1h0M1585.5,294.1h0M1597.5,294.1h0M1606.6,294.1h0M1610.8,294.1h0M1620.8,294.1h0M1623.9,294.1h0M1630.3,294.1h0M1655.1,294.1h0M1490.3,294.1h0M1468.3,292.1h0M1475.4,292.1h0M1480.4,292.1h0M1497.6,292.1h0M1505.6,292.1h0M1508.7,292.1h0M1514.2,292.1h0M1521.5,292.1h0M1527.2,292.1h0M1530.6,292.1h0M1533.3,292.1h0M1535.4,292.1h0M1576.4,292.1h0M1589.6,292.1h0M1592.3,292.1h0M1604.5,292.1h0M1638.0,292.1h0M1646.7,292.1h0M1649.7,292.1h0M1657.1,292.1h0M1429.1,292.1h0M1376.9,290.0h0M1515.4,290.0h0M1537.9,290.0h0M1540.2,290.0h0M1547.0,290.0h0M1550.3,290.0h0M1556.1,290.0h0M1584.5,290.0h0M1592.5,290.0h0M1612.7,290.0h0M1623.9,290.0h0M1626.8,290.0h0M1639.0,290.0h0M1644.1,290.0h0M1653.8,290.0h0M1458.1,288.0h0M1473.0,288.0h0M1487.1,288.0h0M1506.8,288.0h0M1519.1,288.0h0M1540.1,288.0h0M1565.4,288.0h0M1572.9,288.0h0M1580.5,288.0h0M1583.9,288.0h0M1588.8,288.0h0M1597.8,288.0h0M1600.5,288.0h0M1611.9,288.0h0M1615.3,288.0h0M1622.0,288.0h0M1652.2,288.0h0M1655.0,288.0h0M1657.3,288.0h0M1436.2,288.0h0M1376.6,285.9h0M1627.6,285.9h0M1647.4,285.9h0M1649.9,285.9h0M1652.0,285.9h0M1545.2,285.9h0M1592.1,283.9h0M1601.3,283.9h0M1634.4,283.9h0M1655.7,283.9h0M1511.0,281.8h0M1519.6,281.8h0M1526.4,281.8h0M1538.7,281.8h0M1541.9,281.8h0M1560.0,281.8h0M1568.1,281.8h0M1578.2,281.8h0M1595.4,281.8h0M1599.4,281.8h0M1612.3,281.8h0M1623.8,281.8h0M1627.1,281.8h0M1636.0,281.8h0M1644.6,281.8h0M1473.4,279.8h0M1501.6,279.8h0M1513.9,279.8h0M1517.7,279.8h0M1528.8,279.8h0M1540.8,279.8h0M1544.9,279.8h0M1551.8,279.8h0M1560.1,279.8h0M1571.7,279.8h0M1584.4,279.8h0M1605.8,279.8h0M1614.5,279.8h0M1631.9,279.8h0M1643.1,279.8h0M1658.0,279.8h0M1614.7,277.7h0M1620.7,277.7h0M1624.3,277.7h0M1652.2,277.7h0M1376.3,275.7h0M1495.7,275.7h0M1499.4,275.7h0M1503.1,275.7h0M1532.7,275.7h0M1535.4,275.7h0M1573.5,275.7h0M1577.3,275.7h0M1580.3,275.7h0M1592.8,275.7h0M1598.3,275.7h0M1604.0,275.7h0M1620.8,275.7h0M1636.0,275.7h0M1648.7,275.7h0M1650.8,275.7h0M1655.2,275.7h0M1584.7,273.6h0M1587.6,273.6h0M1610.5,273.6h0M1621.6,273.6h0M1626.0,273.6h0M1629.7,273.6h0M1636.5,273.6h0M1653.2,273.6h0M1389.7,273.6h0M1376.4,271.6h0M1523.1,271.6h0M1528.4,271.6h0M1593.2,271.6h0M1606.7,271.6h0M1611.3,271.6h0M1618.0,271.6h0M1620.2,271.6h0M1613.7,269.5h0M1622.0,269.5h0M1625.4,269.5h0M1642.4,269.5h0M1648.5,269.5h0M1374.5,267.5h0M1561.1,267.5h0M1567.0,267.5h0M1574.4,267.5h0M1598.8,267.5h0M1603.8,267.5h0M1609.1,267.5h0M1616.5,267.5h0M1620.5,267.5h0M1624.8,267.5h0M1643.7,267.5h0M1653.2,267.5h0M1374.8,265.4h0M1618.5,265.4h0M1620.8,265.4h0M1629.5,265.4h0M1643.3,265.4h0M1513.3,263.4h0M1519.4,263.4h0M1536.1,263.4h0M1549.3,263.4h0M1557.0,263.4h0M1567.1,263.4h0M1572.6,263.4h0M1581.1,263.4h0M1587.3,263.4h0M1589.8,263.4h0M1595.1,263.4h0M1600.3,263.4h0M1638.2,263.4h0M1645.5,263.4h0M1651.2,263.4h0M1655.4,263.4h0M1373.2,261.3h0M1515.7,261.3h0M1519.5,261.3h0M1535.6,261.3h0M1540.2,261.3h0M1549.3,261.3h0M1560.0,261.3h0M1589.2,261.3h0M1591.8,261.3h0M1595.5,261.3h0M1618.3,261.3h0M1627.4,261.3h0M1632.4,261.3h0M1637.9,261.3h0M1645.0,261.3h0M1634.6,259.2h0M1639.0,259.2h0M1644.2,259.2h0M1656.1,259.2h0M1375.6,257.2h0M1642.4,257.2h0M1645.4,257.2h0M1448.6,255.1h0M1456.4,255.1h0M1476.5,255.1h0M1489.3,255.1h0M1496.0,255.1h0M1507.7,255.1h0M1513.0,255.1h0M1515.5,255.1h0M1521.8,255.1h0M1524.2,255.1h0M1534.2,255.1h0M1539.5,255.1h0M1547.0,255.1h0M1556.3,255.1h0M1560.7,255.1h0M1567.7,255.1h0M1569.9,255.1h0M1592.7,255.1h0M1601.4,255.1h0M1638.7,255.1h0M1641.2,255.1h0M1650.9,255.1h0M1373.8,253.1h0M1599.1,253.1h0M1618.0,253.1h0M1621.3,253.1h0M1655.4,253.1h0M1505.3,253.1h0M1574.5,251.0h0M1581.2,251.0h0M1590.0,251.0h0M1594.6,251.0h0M1598.9,251.0h0M1607.5,251.0h0M1610.4,251.0h0M1625.7,251.0h0M1658.0,251.0h0M1549.5,249.0h0M1553.8,249.0h0M1584.8,249.0h0M1590.5,249.0h0M1593.8,249.0h0M1597.4,249.0h0M1610.2,249.0h0M1632.6,249.0h0M1636.1,249.0h0M1638.3,249.0h0M1652.5,249.0h0M1656.7,249.0h0M1481.2,246.9h0M1483.4,246.9h0M1504.4,246.9h0M1528.5,246.9h0M1539.6,246.9h0M1545.1,246.9h0M1549.2,246.9h0M1555.0,246.9h0M1576.1,246.9h0M1581.9,246.9h0M1592.5,246.9h0M1610.4,246.9h0M1612.7,246.9h0M1614.8,246.9h0M1626.8,246.9h0M1631.0,246.9h0M1636.6,246.9h0M1641.8,246.9h0M1648.2,246.9h0M1652.9,246.9h0M1531.1,244.9h0M1536.2,244.9h0M1541.9,244.9h0M1549.4,244.9h0M1569.3,244.9h0M1572.7,244.9h0M1583.9,244.9h0M1593.3,244.9h0M1600.2,244.9h0M1609.1,244.9h0M1628.4,244.9h0M1632.3,244.9h0M1651.6,244.9h0M1657.3,244.9h0M1376.7,242.8h0M1502.8,242.8h0M1510.1,242.8h0M1521.1,242.8h0M1527.7,242.8h0M1543.2,242.8h0M1550.3,242.8h0M1556.3,242.8h0M1562.7,242.8h0M1572.9,242.8h0M1583.8,242.8h0M1589.8,242.8h0M1595.2,242.8h0M1615.3,242.8h0M1624.4,242.8h0M1628.2,242.8h0M1638.2,242.8h0M1640.3,242.8h0M1643.5,242.8h0M1652.8,242.8h0M1545.4,240.8h0M1547.4,240.8h0M1552.2,240.8h0M1562.1,240.8h0M1572.8,240.8h0M1581.1,240.8h0M1623.5,240.8h0M1631.6,240.8h0M1648.4,240.8h0M1527.1,240.8h0M1405.6,238.7h0M1474.8,238.7h0M1477.2,238.7h0M1486.0,238.7h0M1556.4,238.7h0M1561.2,238.7h0M1563.9,238.7h0M1586.1,238.7h0M1627.6,238.7h0M1633.6,238.7h0M1640.7,238.7h0M1643.3,238.7h0M1653.2,238.7h0M1659.5,238.7h0M1666.7,238.7h0M1675.6,238.7h0M1742.7,238.7h0M1650.0,236.7h0M1665.1,236.7h0M1670.7,236.7h0M1681.7,236.7h0M1741.9,236.7h0M1539.7,234.6h0M1564.9,234.6h0M1590.4,234.6h0M1601.6,234.6h0M1619.5,234.6h0M1629.4,234.6h0M1642.6,234.6h0M1652.9,234.6h0M1668.5,234.6h0M1678.7,234.6h0M1686.2,234.6h0M1698.5,234.6h0M1706.7,234.6h0M1731.3,234.6h0M1753.7,234.6h0M1377.1,232.6h0M1745.1,232.6h0M1545.7,232.6h0M1693.8,230.5h0M1705.6,230.5h0M1729.4,230.5h0M1734.9,230.5h0M1739.4,230.5h0M1655.0,228.5h0M1662.9,228.5h0M1672.4,228.5h0M1676.6,228.5h0M1686.6,228.5h0M1712.5,228.5h0M1724.0,228.5h0M1733.9,228.5h0M1737.1,228.5h0M1745.6,228.5h0M1593.5,226.4h0M1618.9,226.4h0M1636.4,226.4h0M1648.3,226.4h0M1671.3,226.4h0M1677.1,226.4h0M1689.7,226.4h0M1691.7,226.4h0M1697.6,226.4h0M1711.2,226.4h0M1718.0,226.4h0M1730.2,226.4h0M1429.0,226.4h0M1609.9,224.4h0M1619.9,224.4h0M1622.6,224.4h0M1633.4,224.4h0M1641.6,224.4h0M1659.8,224.4h0M1666.4,224.4h0M1675.2,224.4h0M1690.8,224.4h0M1714.4,224.4h0M1722.1,224.4h0M1730.4,224.4h0M1743.6,224.4h0M1540.9,224.4h0M1727.2,222.3h0M1736.2,222.3h0M1666.2,220.2h0M1670.1,220.2h0M1684.7,220.2h0M1689.2,220.2h0M1712.5,220.2h0M1714.6,220.2h0M1720.1,220.2h0M1725.0,220.2h0M1737.1,220.2h0M1473.7,220.2h0M1605.4,218.2h0M1669.7,218.2h0M1682.5,218.2h0M1685.3,218.2h0M1702.1,218.2h0M1720.3,218.2h0M1730.8,218.2h0M1733.6,218.2h0M1750.8,218.2h0M1536.1,216.1h0M1569.6,216.1h0M1588.1,216.1h0M1591.8,216.1h0M1602.2,216.1h0M1621.3,216.1h0M1628.0,216.1h0M1636.6,216.1h0M1666.7,216.1h0M1683.6,216.1h0M1690.4,216.1h0M1696.1,216.1h0M1704.3,216.1h0M1713.8,216.1h0M1725.8,216.1h0M1732.6,216.1h0M1736.4,216.1h0M1741.5,216.1h0M1548.7,214.1h0M1550.9,214.1h0M1554.1,214.1h0M1607.2,214.1h0M1631.7,214.1h0M1634.2,214.1h0M1639.4,214.1h0M1648.9,214.1h0M1653.8,214.1h0M1658.9,214.1h0M1707.9,214.1h0M1722.1,214.1h0M1730.9,214.1h0M1749.8,214.1h0M1754.8,214.1h0M1451.1,214.1h0M1373.8,212.0h0M1585.5,212.0h0M1612.1,212.0h0M1632.1,212.0h0M1638.7,212.0h0M1643.8,212.0h0M1669.5,212.0h0M1673.6,212.0h0M1708.0,212.0h0M1713.0,212.0h0M1716.4,212.0h0M1719.8,212.0h0M1741.7,212.0h0M1564.8,210.0h0M1662.9,210.0h0M1669.5,210.0h0M1674.9,210.0h0M1688.3,210.0h0M1695.2,210.0h0M1707.9,210.0h0M1712.1,210.0h0M1745.7,210.0h0M1752.8,210.0h0M1525.1,210.0h0M1469.5,207.9h0M1478.5,207.9h0M1488.0,207.9h0M1502.9,207.9h0M1518.3,207.9h0M1521.2,207.9h0M1532.5,207.9h0M1555.1,207.9h0M1560.9,207.9h0M1579.3,207.9h0M1591.4,207.9h0M1594.4,207.9h0M1605.1,207.9h0M1607.4,207.9h0M1629.1,207.9h0M1659.7,207.9h0M1693.4,207.9h0M1698.3,207.9h0M1704.6,207.9h0M1711.3,207.9h0M1724.7,207.9h0M1745.1,207.9h0M1750.0,207.9h0M1526.5,205.9h0M1620.9,205.9h0M1636.8,205.9h0M1639.4,205.9h0M1646.7,205.9h0M1656.5,205.9h0M1662.2,205.9h0M1681.8,205.9h0M1686.4,205.9h0M1708.5,205.9h0M1715.1,205.9h0M1718.1,205.9h0M1730.7,205.9h0M1734.0,205.9h0M1746.5,205.9h0M1611.1,203.8h0M1672.2,203.8h0M1691.5,203.8h0M1699.3,203.8h0M1715.4,203.8h0M1718.6,203.8h0M1720.7,203.8h0M1736.1,203.8h0M1604.4,201.8h0M1610.3,201.8h0M1627.5,201.8h0M1640.8,201.8h0M1649.1,201.8h0M1654.0,201.8h0M1662.7,201.8h0M1667.7,201.8h0M1671.5,201.8h0M1677.0,201.8h0M1705.7,201.8h0M1716.7,201.8h0M1747.5,201.8h0M1749.7,201.8h0M1557.0,197.7h0M1590.9,197.7h0M1611.6,197.7h0M1614.5,197.7h0M1620.2,197.7h0M1634.0,197.7h0M1688.9,197.7h0M1691.5,197.7h0M1706.0,197.7h0M1723.3,197.7h0M1747.2,197.7h0M1754.6,197.7h0M1541.5,195.6h0M1574.6,195.6h0M1580.8,195.6h0M1616.7,195.6h0M1639.9,195.6h0M1644.9,195.6h0M1680.5,195.6h0M1697.5,195.6h0M1715.6,195.6h0M1718.5,195.6h0M1720.5,195.6h0M1750.1,195.6h0M1752.6,195.6h0M1375.6,193.6h0M1631.0,193.6h0M1660.0,193.6h0M1670.9,193.6h0M1692.1,193.6h0M1703.0,193.6h0M1708.9,193.6h0M1726.3,193.6h0M1733.0,193.6h0M1735.7,193.6h0M1745.9,193.6h0M1374.8,191.5h0M1532.6,191.5h0M1613.3,191.5h0M1639.0,191.5h0M1659.1,191.5h0M1685.5,191.5h0M1691.1,191.5h0M1704.6,191.5h0M1717.3,191.5h0M1746.6,191.5h0M1717.1,189.5h0M1725.9,189.5h0M1729.1,189.5h0M1744.8,189.5h0M1458.8,187.4h0M1393.9,187.4h0M1430.1,185.4h0M1434.7,185.4h0M1438.0,185.4h0M1442.4,185.4h0M1454.4,185.4h0M1461.6,185.4h0M1465.5,185.4h0M1411.0,185.4h0M1433.6,183.3h0M1445.2,183.3h0M1447.5,183.3h0M1458.8,183.3h0M1461.9,183.3h0M1465.6,183.3h0M1438.1,179.2h0M1375.3,177.1h0M1436.4,177.1h0M1441.7,177.1h0M1452.6,177.1h0M1456.1,177.1h0M1460.5,177.1h0M1463.0,177.1h0M1461.5,175.1h0M1416.9,175.1h0M1458.2,173.0h0M1465.6,173.0h0M1455.3,171.0h0M1438.1,171.0h0M1431.8,168.9h0M1445.7,168.9h0M1454.7,168.9h0M1464.2,168.9h0M1377.1,166.9h0M1450.0,166.9h0M1456.7,166.9h0M1459.0,166.9h0M1463.7,166.9h0M1418.6,164.8h0M1424.2,164.8h0M1446.8,164.8h0M1454.4,164.8h0M1465.2,164.8h0M1430.7,162.8h0M1434.1,162.8h0M1441.4,162.8h0M1452.8,162.8h0M1463.2,162.8h0M1406.3,162.8h0M1431.3,160.7h0M1436.3,160.7h0M1438.7,160.7h0M1442.6,160.7h0M1447.2,160.7h0M1374.5,158.7h0M1446.1,158.7h0M1452.2,158.7h0M1454.9,158.7h0M1458.5,158.7h0M1463.2,158.7h0M1443.0,156.6h0M1456.4,156.6h0M1463.9,156.6h0M1376.3,154.6h0M1433.5,154.6h0M1443.0,154.6h0M1446.8,154.6h0M1451.2,154.6h0M1424.7,152.5h0M1426.9,152.5h0M1438.3,152.5h0M1444.8,152.5h0M1449.2,152.5h0M1436.2,150.5h0M1444.3,150.5h0M1449.2,150.5h0M1460.0,150.5h0M1462.7,150.5h0M1443.3,148.4h0M1448.0,148.4h0M1465.1,148.4h0" stroke="#8a8a8a" stroke-width="3.1" stroke-linecap="round" fill="none"/>
<rect x="1367.3" y="147.0" width="2.9" height="402.0" fill="#a6a6a6"/>
<path d="M1368.7,548.6h0M1368.7,546.6h0M1368.7,544.5h0M1368.7,542.5h0M1368.7,540.4h0M1368.7,538.4h0M1368.7,536.3h0M1368.7,534.3h0M1368.7,532.2h0M1368.7,530.2h0M1368.7,528.1h0M1368.7,526.1h0M1368.7,524.0h0M1368.7,522.0h0M1368.7,519.9h0M1368.7,517.9h0M1368.7,515.8h0M1368.7,513.8h0M1368.7,511.7h0M1368.7,509.7h0M1368.7,507.6h0M1368.7,505.5h0M1368.7,503.5h0M1368.7,501.4h0M1368.7,499.4h0M1368.7,497.3h0M1368.7,495.3h0M1368.7,493.2h0M1368.7,491.2h0M1368.7,489.1h0M1368.7,487.1h0M1368.7,485.0h0M1368.7,483.0h0M1368.7,480.9h0M1368.7,478.9h0M1368.7,476.8h0M1368.7,474.8h0M1368.7,472.7h0M1368.7,470.7h0M1368.7,468.6h0M1368.7,466.5h0M1368.7,464.5h0M1368.7,462.4h0M1368.7,460.4h0M1368.7,458.3h0M1368.7,456.3h0M1368.7,454.2h0M1368.7,452.2h0M1368.7,450.1h0M1368.7,448.1h0M1368.7,446.0h0M1368.7,444.0h0M1368.7,441.9h0M1368.7,439.9h0M1368.7,437.8h0M1368.7,435.8h0M1368.7,433.7h0M1368.7,431.7h0M1368.7,429.6h0M1368.7,427.6h0M1368.7,425.5h0M1368.7,423.4h0M1368.7,421.4h0M1368.7,419.3h0M1368.7,417.3h0M1368.7,415.2h0M1368.7,413.2h0M1368.7,411.1h0M1368.7,409.1h0M1368.7,407.0h0M1368.7,405.0h0M1368.7,402.9h0M1368.7,400.9h0M1368.7,398.8h0M1368.7,396.8h0M1368.7,394.7h0M1368.7,392.7h0M1368.7,390.6h0M1368.7,388.6h0M1368.7,386.5h0M1368.7,384.4h0M1368.7,382.4h0M1368.7,380.3h0M1368.7,378.3h0M1368.7,376.2h0M1368.7,374.2h0M1368.7,372.1h0M1368.7,370.1h0M1368.7,368.0h0M1368.7,366.0h0M1368.7,363.9h0M1368.7,361.9h0M1368.7,359.8h0M1368.7,357.8h0M1368.7,355.7h0M1368.7,353.7h0M1368.7,351.6h0M1368.7,349.6h0M1368.7,347.5h0M1368.7,345.5h0M1368.7,343.4h0M1368.7,341.3h0M1368.7,339.3h0M1368.7,337.2h0M1368.7,335.2h0M1368.7,333.1h0M1368.7,331.1h0M1368.7,329.0h0M1368.7,327.0h0M1368.7,324.9h0M1368.7,322.9h0M1368.7,320.8h0M1368.7,318.8h0M1368.7,316.7h0M1368.7,314.7h0M1368.7,312.6h0M1368.7,310.6h0M1368.7,308.5h0M1368.7,306.5h0M1368.7,304.4h0M1368.7,302.3h0M1368.7,300.3h0M1368.7,298.2h0M1368.7,296.2h0M1368.7,294.1h0M1368.7,292.1h0M1368.7,290.0h0M1368.7,288.0h0M1368.7,285.9h0M1368.7,283.9h0M1368.7,281.8h0M1368.7,279.8h0M1368.7,277.7h0M1368.7,275.7h0M1368.7,273.6h0M1368.7,271.6h0M1368.7,269.5h0M1368.7,267.5h0M1368.7,265.4h0M1368.7,263.4h0M1368.7,261.3h0M1368.7,259.2h0M1368.7,257.2h0M1368.7,255.1h0M1368.7,253.1h0M1368.7,251.0h0M1368.7,249.0h0M1368.7,246.9h0M1368.7,244.9h0M1368.7,242.8h0M1368.7,240.8h0M1368.7,238.7h0M1368.7,236.7h0M1368.7,234.6h0M1368.7,232.6h0M1368.7,230.5h0M1368.7,228.5h0M1368.7,226.4h0M1368.7,224.4h0M1368.7,222.3h0M1368.7,220.2h0M1368.7,218.2h0M1368.7,216.1h0M1368.7,214.1h0M1368.7,212.0h0M1368.7,210.0h0M1368.7,207.9h0M1368.7,205.9h0M1368.7,203.8h0M1368.7,201.8h0M1368.7,199.7h0M1368.7,197.7h0M1368.7,195.6h0M1368.7,193.6h0M1368.7,191.5h0M1368.7,189.5h0M1368.7,187.4h0M1368.7,185.4h0M1368.7,183.3h0M1368.7,181.2h0M1368.7,179.2h0M1368.7,177.1h0M1368.7,175.1h0M1368.7,173.0h0M1368.7,171.0h0M1368.7,168.9h0M1368.7,166.9h0M1368.7,164.8h0M1368.7,162.8h0M1368.7,160.7h0M1368.7,158.7h0M1368.7,156.6h0M1368.7,154.6h0M1368.7,152.5h0M1368.7,150.5h0M1368.7,148.4h0M1368.7,146.4h0M1368.7,549.7h0M1368.7,547.6h0M1368.7,545.6h0M1368.7,543.5h0M1368.7,541.5h0M1368.7,539.4h0M1368.7,537.4h0M1368.7,535.3h0M1368.7,533.3h0M1368.7,531.2h0M1368.7,529.2h0M1368.7,527.1h0M1368.7,525.0h0M1368.7,523.0h0M1368.7,520.9h0M1368.7,518.9h0M1368.7,516.8h0M1368.7,514.8h0M1368.7,512.7h0M1368.7,510.7h0M1368.7,508.6h0M1368.7,506.6h0M1368.7,504.5h0M1368.7,502.5h0M1368.7,500.4h0M1368.7,498.4h0M1368.7,496.3h0M1368.7,494.3h0M1368.7,492.2h0M1368.7,490.2h0M1368.7,488.1h0M1368.7,486.1h0M1368.7,484.0h0M1368.7,481.9h0M1368.7,479.9h0M1368.7,477.8h0M1368.7,475.8h0M1368.7,473.7h0M1368.7,471.7h0M1368.7,469.6h0M1368.7,467.6h0M1368.7,465.5h0M1368.7,463.5h0M1368.7,461.4h0M1368.7,459.4h0M1368.7,457.3h0M1368.7,455.3h0M1368.7,453.2h0M1368.7,451.2h0M1368.7,449.1h0M1368.7,447.1h0M1368.7,445.0h0M1368.7,442.9h0M1368.7,440.9h0M1368.7,438.8h0M1368.7,436.8h0M1368.7,434.7h0M1368.7,432.7h0M1368.7,430.6h0M1368.7,428.6h0M1368.7,426.5h0M1368.7,424.5h0M1368.7,422.4h0M1368.7,420.4h0M1368.7,418.3h0M1368.7,416.3h0M1368.7,414.2h0M1368.7,412.2h0M1368.7,410.1h0M1368.7,408.1h0M1368.7,406.0h0M1368.7,403.9h0M1368.7,401.9h0M1368.7,399.8h0M1368.7,397.8h0M1368.7,395.7h0M1368.7,393.7h0M1368.7,391.6h0M1368.7,389.6h0M1368.7,387.5h0M1368.7,385.5h0M1368.7,383.4h0M1368.7,381.4h0M1368.7,379.3h0M1368.7,377.3h0M1368.7,375.2h0M1368.7,373.2h0M1368.7,371.1h0M1368.7,369.1h0M1368.7,367.0h0M1368.7,365.0h0M1368.7,362.9h0M1368.7,360.8h0M1368.7,358.8h0M1368.7,356.7h0M1368.7,354.7h0M1368.7,352.6h0M1368.7,350.6h0M1368.7,348.5h0M1368.7,346.5h0M1368.7,344.4h0M1368.7,342.4h0M1368.7,340.3h0M1368.7,338.3h0M1368.7,336.2h0M1368.7,334.2h0M1368.7,332.1h0M1368.7,330.1h0M1368.7,328.0h0M1368.7,326.0h0M1368.7,323.9h0M1368.7,321.9h0M1368.7,319.8h0M1368.7,317.7h0M1368.7,315.7h0M1368.7,313.6h0M1368.7,311.6h0M1368.7,309.5h0M1368.7,307.5h0M1368.7,305.4h0M1368.7,303.4h0M1368.7,301.3h0M1368.7,299.3h0M1368.7,297.2h0M1368.7,295.2h0M1368.7,293.1h0M1368.7,291.1h0M1368.7,289.0h0M1368.7,287.0h0M1368.7,284.9h0M1368.7,282.9h0M1368.7,280.8h0M1368.7,278.7h0M1368.7,276.7h0M1368.7,274.6h0M1368.7,272.6h0M1368.7,270.5h0M1368.7,268.5h0M1368.7,266.4h0M1368.7,264.4h0M1368.7,262.3h0M1368.7,260.3h0M1368.7,258.2h0M1368.7,256.2h0M1368.7,254.1h0M1368.7,252.1h0M1368.7,250.0h0M1368.7,248.0h0M1368.7,245.9h0M1368.7,243.9h0M1368.7,241.8h0M1368.7,239.8h0M1368.7,237.7h0M1368.7,235.6h0M1368.7,233.6h0M1368.7,231.5h0M1368.7,229.5h0M1368.7,227.4h0M1368.7,225.4h0M1368.7,223.3h0M1368.7,221.3h0M1368.7,219.2h0M1368.7,217.2h0M1368.7,215.1h0M1368.7,213.1h0M1368.7,211.0h0M1368.7,209.0h0M1368.7,206.9h0M1368.7,204.9h0M1368.7,202.8h0M1368.7,200.8h0M1368.7,198.7h0M1368.7,196.6h0M1368.7,194.6h0M1368.7,192.5h0M1368.7,190.5h0M1368.7,188.4h0M1368.7,186.4h0M1368.7,184.3h0M1368.7,182.3h0M1368.7,180.2h0M1368.7,178.2h0M1368.7,176.1h0M1368.7,174.1h0M1368.7,172.0h0M1368.7,170.0h0M1368.7,167.9h0M1368.7,165.9h0M1368.7,163.8h0M1368.7,161.8h0M1368.7,159.7h0M1368.7,157.7h0M1368.7,155.6h0M1368.7,153.5h0M1368.7,151.5h0M1368.7,149.4h0M1368.7,147.4h0" stroke="#9a9a9a" stroke-width="3.3" stroke-linecap="round" fill="none"/>
<path d="M1490.7,546.0h0M1406.6,546.0h0M1505.1,544.5h0M1517.1,542.5h0M1633.8,540.4h0M1528.7,538.4h0M1663.9,536.3h0M1561.9,534.3h0M1541.2,532.2h0M1568.2,530.2h0M1634.1,528.1h0M1670.0,526.1h0M1585.5,524.0h0M1537.5,522.0h0M1649.7,519.9h0M1557.4,517.9h0M1517.5,515.8h0M1543.0,513.8h0M1568.7,511.7h0M1585.8,509.7h0M1535.9,507.6h0M1531.6,505.5h0M1546.3,503.5h0M1566.7,501.4h0M1516.9,499.4h0M1452.1,497.3h0M1457.0,495.3h0M1418.9,493.2h0M1432.3,491.2h0M1463.5,489.1h0M1467.5,487.1h0M1442.1,485.0h0M1469.3,483.0h0M1464.9,480.9h0M1457.2,478.9h0M1458.8,476.8h0M1466.9,474.8h0M1475.3,472.7h0M1443.8,470.7h0M1452.5,468.6h0M1467.7,466.5h0M1492.9,464.5h0M1459.3,462.4h0M1454.3,460.4h0M1527.4,458.3h0M1451.7,456.3h0M1463.8,454.2h0M1453.8,452.2h0M1460.2,450.1h0M1422.3,448.1h0M1408.0,446.0h0M1406.4,444.0h0M1402.2,441.9h0M1409.3,439.9h0M1418.7,437.8h0M1418.6,435.8h0M1416.0,433.7h0M1413.7,431.7h0M1403.4,429.6h0M1411.5,427.6h0M1416.2,425.5h0M1402.8,423.4h0M1417.0,421.4h0M1417.6,419.3h0M1407.9,417.3h0M1399.9,415.2h0M1410.9,413.2h0M1403.7,411.1h0M1406.9,409.1h0M1409.3,407.0h0M1408.6,405.0h0M1406.2,402.9h0M1411.3,400.9h0M1413.3,398.8h0M1450.3,396.8h0M1439.8,394.7h0M1505.7,392.7h0M1574.6,390.6h0M1503.3,388.6h0M1589.3,386.5h0M1603.5,384.4h0M1502.8,382.4h0M1662.7,380.3h0M1446.2,378.3h0M1531.6,376.2h0M1608.2,374.2h0M1630.4,372.1h0M1512.1,370.1h0M1438.7,368.0h0M1570.0,366.0h0M1605.9,363.9h0M1526.9,361.9h0M1588.2,359.8h0M1436.9,357.8h0M1452.1,355.7h0M1571.6,353.7h0M1549.1,351.6h0M1533.7,349.6h0M1439.5,347.5h0M1565.0,345.5h0M1524.3,343.4h0M1565.8,341.3h0M1470.3,339.3h0M1578.4,337.2h0M1559.0,335.2h0M1562.0,333.1h0M1554.4,331.1h0M1524.7,329.0h0M1543.7,327.0h0M1520.5,324.9h0M1462.3,322.9h0M1643.5,320.8h0M1468.6,318.8h0M1608.8,316.7h0M1453.0,314.7h0M1524.6,312.6h0M1575.7,310.6h0M1489.0,308.5h0M1468.4,306.5h0M1463.2,304.4h0M1539.0,302.3h0M1477.9,300.3h0M1493.2,298.2h0M1516.5,296.2h0M1492.5,294.1h0M1465.3,292.1h0M1512.1,290.0h0M1455.4,288.0h0M1605.6,285.9h0M1583.8,283.9h0M1495.6,281.8h0M1467.3,279.8h0M1584.2,277.7h0M1483.8,275.7h0M1556.5,273.6h0M1506.8,271.6h0M1603.7,269.5h0M1538.2,267.5h0M1538.4,265.4h0M1492.9,263.4h0M1499.4,261.3h0M1632.2,259.2h0M1639.5,257.2h0M1442.7,255.1h0M1578.7,253.1h0M1559.3,251.0h0M1534.5,249.0h0M1461.8,246.9h0M1501.2,244.9h0M1498.5,242.8h0M1531.4,240.8h0M1398.7,238.7h0M1499.7,236.7h0M1503.9,234.6h0M1575.8,232.6h0M1643.6,230.5h0M1644.5,228.5h0M1547.9,226.4h0M1545.5,224.4h0M1692.8,222.3h0M1651.6,220.2h0M1597.4,218.2h0M1520.7,216.1h0M1461.9,214.1h0M1538.7,212.0h0M1560.0,210.0h0M1453.2,207.9h0M1497.1,205.9h0M1603.9,203.8h0M1561.5,201.8h0M1615.5,199.7h0M1496.3,197.7h0M1529.1,195.6h0M1572.2,193.6h0M1526.0,191.5h0M1601.6,189.5h0M1456.7,187.4h0M1421.6,185.4h0M1430.2,183.3h0M1451.6,181.2h0M1448.7,179.2h0M1403.2,177.1h0M1435.4,175.1h0M1444.6,173.0h0M1448.4,171.0h0M1414.9,168.9h0M1438.5,166.9h0M1408.2,164.8h0M1425.2,162.8h0M1427.3,160.7h0M1440.0,158.7h0M1434.5,156.6h0M1419.6,154.6h0M1406.8,152.5h0M1419.2,150.5h0M1425.3,148.4h0M1444.3,146.4h0" stroke="#ff2a14" stroke-width="5.0" stroke-linecap="round" fill="none"/>
<rect x="1359.3" y="144.9" width="4.4" height="407.7" fill="#000"/>
<rect x="1355.1" y="548.8" width="497.7" height="3.8" fill="#000"/>
<rect x="1354.8" y="548.7" width="5.2" height="4.0" fill="#000"/>
<text x="1331.8" y="558.0" font-size="20.5" textLength="11.8" lengthAdjust="spacingAndGlyphs">0</text>
<rect x="1354.8" y="507.8" width="5.2" height="4.0" fill="#000"/>
<text x="1318.8" y="517.1" font-size="20.5" textLength="24.8" lengthAdjust="spacingAndGlyphs">20</text>
<rect x="1354.8" y="468.4" width="5.2" height="4.0" fill="#000"/>
<text x="1318.8" y="477.7" font-size="20.5" textLength="24.8" lengthAdjust="spacingAndGlyphs">40</text>
<rect x="1354.8" y="427.0" width="5.2" height="4.0" fill="#000"/>
<text x="1318.8" y="436.3" font-size="20.5" textLength="24.8" lengthAdjust="spacingAndGlyphs">60</text>
<rect x="1354.8" y="385.7" width="5.2" height="4.0" fill="#000"/>
<text x="1318.8" y="395.0" font-size="20.5" textLength="24.8" lengthAdjust="spacingAndGlyphs">80</text>
<rect x="1354.8" y="344.7" width="5.2" height="4.0" fill="#000"/>
<text x="1305.9" y="354.0" font-size="20.5" textLength="37.7" lengthAdjust="spacingAndGlyphs">100</text>
<rect x="1354.8" y="302.8" width="5.2" height="4.0" fill="#000"/>
<text x="1305.9" y="312.1" font-size="20.5" textLength="37.7" lengthAdjust="spacingAndGlyphs">120</text>
<rect x="1354.8" y="262.0" width="5.2" height="4.0" fill="#000"/>
<text x="1305.9" y="271.3" font-size="20.5" textLength="37.7" lengthAdjust="spacingAndGlyphs">140</text>
<rect x="1354.8" y="220.9" width="5.2" height="4.0" fill="#000"/>
<text x="1305.9" y="230.2" font-size="20.5" textLength="37.7" lengthAdjust="spacingAndGlyphs">160</text>
<rect x="1354.8" y="179.8" width="5.2" height="4.0" fill="#000"/>
<text x="1305.9" y="189.1" font-size="20.5" textLength="37.7" lengthAdjust="spacingAndGlyphs">180</text>
<rect x="1354.8" y="144.9" width="5.2" height="4.0" fill="#000"/>
<text x="1305.9" y="156.3" font-size="20.5" textLength="37.7" lengthAdjust="spacingAndGlyphs">200</text>
<rect x="1368.0" y="551.0" width="4.0" height="5.8" fill="#000"/>
<text x="1363.4" y="587.0" font-size="20.5" textLength="12.2" lengthAdjust="spacingAndGlyphs">0</text>
<rect x="1448.7" y="551.0" width="4.0" height="5.8" fill="#000"/>
<text x="1436.2" y="587.0" font-size="20.5" textLength="27.2" lengthAdjust="spacingAndGlyphs">10</text>
<rect x="1529.2" y="551.0" width="4.0" height="5.8" fill="#000"/>
<text x="1517.8" y="587.0" font-size="20.5" textLength="27.2" lengthAdjust="spacingAndGlyphs">20</text>
<rect x="1609.5" y="551.0" width="4.0" height="5.8" fill="#000"/>
<text x="1599.0" y="587.0" font-size="20.5" textLength="27.2" lengthAdjust="spacingAndGlyphs">30</text>
<rect x="1690.2" y="551.0" width="4.0" height="5.8" fill="#000"/>
<text x="1678.3" y="587.0" font-size="20.5" textLength="27.2" lengthAdjust="spacingAndGlyphs">40</text>
<rect x="1770.5" y="551.0" width="4.0" height="5.8" fill="#000"/>
<text x="1760.0" y="587.0" font-size="20.5" textLength="27.2" lengthAdjust="spacingAndGlyphs">50</text>
<rect x="1848.8" y="551.0" width="4.0" height="5.8" fill="#000"/>
<text x="1837.1" y="586.4" font-size="20.5" textLength="27.2" lengthAdjust="spacingAndGlyphs">60</text>
<text x="1293.0" y="425.0" font-size="26" textLength="138.0" lengthAdjust="spacingAndGlyphs" transform="rotate(-90 1293.0 425.0)">trial number</text>
<text x="1478.8" y="619.2" font-size="26" textLength="239.0" lengthAdjust="spacingAndGlyphs">time from reward (s)</text>
<circle cx="1611.5" cy="419.4" r="9" fill="#909090"/>
<text x="1627.4" y="427.4" font-size="22.7" textLength="113.7" lengthAdjust="spacingAndGlyphs">lever press</text>
<circle cx="1611.5" cy="468.5" r="9" fill="#ff5a5f"/>
<text x="1627.4" y="476.6" font-size="22.7" textLength="100.7" lengthAdjust="spacingAndGlyphs">first press</text>
</g>
<g id="panelC">
<text x="202.0" y="708.0" font-size="35" font-weight="bold">C</text>
<polyline points="304.8,1010.0 308.1,1018.3 311.3,1022.4 314.6,1014.9 317.8,995.4 321.1,972.1 324.4,949.2 327.6,926.3 330.9,907.4 334.1,883.5 337.4,859.3 340.6,836.8 343.9,826.3 347.1,818.2 350.4,810.9 353.6,801.9 356.9,773.9 360.2,771.1 363.4,778.4 366.7,759.2 369.3,752.0" fill="none" stroke="#5a46d8" stroke-width="1.7" stroke-dasharray="1.7 2.9" opacity="0.85"/>
<polyline points="304.8,1020.2 308.1,1025.6 311.3,1028.9 314.6,1024.5 317.8,1007.4 321.1,990.1 324.4,969.9 327.6,951.1 330.9,928.6 334.1,908.2 337.4,885.7 340.6,860.7 343.9,851.8 347.1,843.2 350.4,831.6 353.6,827.5 356.9,798.3 360.2,793.4 363.4,798.8 366.7,785.6 369.3,775.5" fill="none" stroke="#5a46d8" stroke-width="1.7" stroke-dasharray="1.7 2.9" opacity="0.85"/>
<polyline points="304.8,1015.1 308.1,1022.0 311.3,1025.6 314.6,1019.7 317.8,1001.4 321.1,981.1 324.4,959.6 327.6,938.7 330.9,918.0 334.1,895.9 337.4,872.5 340.6,848.8 343.9,839.0 347.1,830.7 350.4,821.2 353.6,814.7 356.9,786.1 360.2,782.3 363.4,788.6 366.7,772.4 369.3,763.8" fill="none" stroke="#5a46d8" stroke-width="2.1" stroke-linejoin="round"/>
<polyline points="304.8,1009.6 308.1,1013.3 311.3,1017.8 314.6,1018.3 317.8,1019.9 321.1,1016.5 324.4,1013.0 327.6,1001.4 330.9,990.8 334.1,977.6 337.4,960.2 340.6,948.7 343.9,947.1 347.1,933.8 350.4,920.5 353.6,932.7 356.9,925.6 360.2,923.8 363.4,921.6 366.7,902.5 369.9,883.2 373.2,889.2 376.4,901.1 379.7,905.1 382.9,879.8 386.2,871.7 389.4,868.7 392.7,858.6 396.0,855.9 399.2,840.4 402.5,842.4 405.7,825.8 409.0,833.3 412.2,852.0 415.5,830.9 418.7,820.6 422.0,802.9 425.3,812.7 428.5,814.1 431.8,815.5 435.0,804.4 438.3,786.3 441.5,788.2 444.8,804.7 448.0,788.4" fill="none" stroke="#5a7cae" stroke-width="1.7" stroke-dasharray="1.7 2.9" opacity="0.85"/>
<polyline points="304.8,1020.6 308.1,1023.8 311.3,1026.1 314.6,1027.9 317.8,1028.6 321.1,1025.2 324.4,1021.8 327.6,1015.1 330.9,1007.4 334.1,993.2 337.4,983.2 340.6,971.9 343.9,968.9 347.1,959.2 350.4,950.2 353.6,962.6 356.9,949.2 360.2,952.2 363.4,945.3 366.7,931.8 369.9,909.2 373.2,919.8 376.4,932.5 379.7,932.6 382.9,911.3 386.2,897.5 389.4,892.6 392.7,886.9 396.0,879.5 399.2,865.3 402.5,869.1 405.7,854.1 409.0,857.8 412.2,875.7 415.5,861.3 418.7,846.5 422.0,834.1 425.3,843.4 428.5,840.5 431.8,842.6 435.0,832.0 438.3,814.9 441.5,816.4 444.8,832.6 448.0,816.8" fill="none" stroke="#5a7cae" stroke-width="1.7" stroke-dasharray="1.7 2.9" opacity="0.85"/>
<polyline points="304.8,1015.1 308.1,1018.5 311.3,1022.0 314.6,1023.1 317.8,1024.2 321.1,1020.8 324.4,1017.4 327.6,1008.2 330.9,999.1 334.1,985.4 337.4,971.7 340.6,960.3 343.9,958.0 347.1,946.5 350.4,935.3 353.6,947.7 356.9,937.4 360.2,938.0 363.4,933.5 366.7,917.2 369.9,896.2 373.2,904.5 376.4,916.8 379.7,918.8 382.9,895.6 386.2,884.6 389.4,880.6 392.7,872.7 396.0,867.7 399.2,852.8 402.5,855.8 405.7,840.0 409.0,845.5 412.2,863.8 415.5,846.1 418.7,833.6 422.0,818.5 425.3,828.1 428.5,827.3 431.8,829.1 435.0,818.2 438.3,800.6 441.5,802.3 444.8,818.7 448.0,802.6" fill="none" stroke="#5a7cae" stroke-width="2.1" stroke-linejoin="round"/>
<polyline points="304.8,1012.6 308.1,1016.1 311.3,1020.5 314.6,1022.0 317.8,1023.4 321.1,1020.4 324.4,1018.3 327.6,1012.4 330.9,1007.2 334.1,1000.7 337.4,993.0 340.6,983.0 343.9,974.5 347.1,970.1 350.4,972.7 353.6,974.9 356.9,974.0 360.2,971.9 363.4,969.1 366.7,961.0 369.9,959.8 373.2,957.1 376.4,957.8 379.7,952.5 382.9,952.7 386.2,957.7 389.4,952.5 392.7,941.1 396.0,932.7 399.2,935.1 402.5,938.0 405.7,908.8 409.0,917.8 412.2,918.5 415.5,905.4 418.7,897.4 422.0,903.4 425.3,906.6 428.5,896.8 431.8,893.2 435.0,883.5 438.3,880.8 441.5,883.4 444.8,863.0 448.0,867.2 451.3,864.9 454.6,861.0 457.8,858.3 461.1,862.6 464.3,865.0 467.6,863.4 470.8,855.7 474.1,854.3 477.3,861.1 480.6,851.9 483.8,829.1 487.1,839.6 490.4,847.1 493.6,835.8 496.9,827.6 500.1,834.2 503.4,835.6 506.6,827.5 509.9,820.5 513.1,823.8 516.4,825.4 519.6,821.6 522.9,819.6 526.2,823.4" fill="none" stroke="#4f9d74" stroke-width="1.7" stroke-dasharray="1.7 2.9" opacity="0.85"/>
<polyline points="304.8,1022.2 308.1,1025.5 311.3,1028.0 314.6,1028.8 317.8,1029.7 321.1,1028.1 324.4,1025.7 327.6,1022.4 330.9,1018.4 334.1,1011.2 337.4,1005.2 340.6,999.2 343.9,991.7 347.1,989.0 350.4,988.9 353.6,989.8 356.9,989.8 360.2,990.4 363.4,985.6 366.7,979.4 369.9,978.8 373.2,976.6 376.4,977.2 379.7,975.8 382.9,971.6 386.2,974.9 389.4,975.9 392.7,966.6 396.0,960.7 399.2,958.9 402.5,964.6 405.7,936.6 409.0,940.4 412.2,945.0 415.5,932.6 418.7,923.3 422.0,928.2 425.3,929.7 428.5,920.3 431.8,915.8 435.0,905.0 438.3,906.2 441.5,906.5 444.8,890.0 448.0,888.5 451.3,892.6 454.6,887.1 457.8,886.2 461.1,890.2 464.3,892.6 467.6,888.7 470.8,876.7 474.1,880.8 477.3,883.3 480.6,875.1 483.8,855.0 487.1,864.4 490.4,871.2 493.6,863.8 496.9,853.1 500.1,857.7 503.4,858.4 506.6,854.9 509.9,845.0 513.1,850.6 516.4,849.0 519.6,844.0 522.9,844.5 526.2,850.4" fill="none" stroke="#4f9d74" stroke-width="1.7" stroke-dasharray="1.7 2.9" opacity="0.85"/>
<polyline points="304.8,1017.4 308.1,1020.8 311.3,1024.2 314.6,1025.4 317.8,1026.5 321.1,1024.2 324.4,1022.0 327.6,1017.4 330.9,1012.8 334.1,1006.0 337.4,999.1 340.6,991.1 343.9,983.1 347.1,979.6 350.4,980.8 353.6,982.3 356.9,981.9 360.2,981.1 363.4,977.4 366.7,970.2 369.9,969.3 373.2,966.9 376.4,967.5 379.7,964.2 382.9,962.1 386.2,966.3 389.4,964.2 392.7,953.8 396.0,946.7 399.2,947.0 402.5,951.3 405.7,922.7 409.0,929.1 412.2,931.7 415.5,919.0 418.7,910.3 422.0,915.8 425.3,918.2 428.5,908.6 431.8,904.5 435.0,894.2 438.3,893.5 441.5,895.0 444.8,876.5 448.0,877.9 451.3,878.7 454.6,874.1 457.8,872.2 461.1,876.4 464.3,878.8 467.6,876.0 470.8,866.2 474.1,867.6 477.3,872.2 480.6,863.5 483.8,842.1 487.1,852.0 490.4,859.2 493.6,849.8 496.9,840.4 500.1,845.9 503.4,847.0 506.6,841.2 509.9,832.8 513.1,837.2 516.4,837.2 519.6,832.8 522.9,832.1 526.2,836.9" fill="none" stroke="#4f9d74" stroke-width="2.1" stroke-linejoin="round"/>
<polyline points="304.8,1013.4 308.1,1017.4 311.3,1023.3 314.6,1024.7 317.8,1025.1 321.1,1024.6 324.4,1022.6 327.6,1020.2 330.9,1017.5 334.1,1012.2 337.4,1007.6 340.6,1002.2 343.9,998.5 347.1,994.1 350.4,985.7 353.6,979.4 356.9,976.5 360.2,974.8 363.4,979.4 366.7,981.4 369.9,983.2 373.2,985.0 376.4,980.5 379.7,973.1 382.9,962.9 386.2,963.4 389.4,962.0 392.7,964.9 396.0,975.6 399.2,971.6 402.5,967.3 405.7,964.9 409.0,962.5 412.2,953.0 415.5,947.4 418.7,953.1 422.0,954.8 425.3,951.1 428.5,949.2 431.8,946.0 435.0,942.7 438.3,937.0 441.5,932.6 444.8,941.3 448.0,927.8 451.3,916.5 454.6,923.8 457.8,920.8 461.1,918.0 464.3,915.6 467.6,913.1 470.8,908.8 474.1,903.1 477.3,906.4 480.6,910.6 483.8,907.4 487.1,905.8 490.4,902.1 493.6,897.1 496.9,883.3 500.1,869.7 503.4,876.0 506.6,875.3 509.9,873.8 513.1,869.6 516.4,865.2 519.6,872.3 522.9,880.5 526.2,883.8 529.4,875.3 532.7,866.3 535.9,861.1 539.2,857.7 542.4,852.7 545.7,849.3 548.9,852.3 552.2,853.8 555.5,863.2 558.7,864.7 562.0,871.7 565.2,857.7 568.5,846.9 571.7,839.4 575.0,841.6 578.2,834.8 581.5,830.0 584.8,830.1 588.0,833.2 591.3,837.4 594.5,841.4 597.8,844.0 601.0,841.5 604.3,842.0" fill="none" stroke="#5bd04c" stroke-width="1.7" stroke-dasharray="1.7 2.9" opacity="0.85"/>
<polyline points="304.8,1021.4 308.1,1026.5 311.3,1029.8 314.6,1030.6 317.8,1032.0 321.1,1030.7 324.4,1030.5 327.6,1028.3 330.9,1026.4 334.1,1022.6 337.4,1018.0 340.6,1014.3 343.9,1008.9 347.1,1007.8 350.4,1000.2 353.6,995.9 356.9,991.0 360.2,992.5 363.4,996.8 366.7,994.8 369.9,997.4 373.2,999.8 376.4,997.3 379.7,988.8 382.9,980.1 386.2,980.9 389.4,981.7 392.7,984.6 396.0,991.5 399.2,988.1 402.5,984.8 405.7,982.6 409.0,981.0 412.2,971.4 415.5,969.3 418.7,976.5 422.0,974.8 425.3,973.7 428.5,968.8 431.8,969.3 435.0,967.1 438.3,962.0 441.5,957.4 444.8,964.3 448.0,953.5 451.3,944.1 454.6,945.9 457.8,942.5 461.1,944.5 464.3,943.3 467.6,937.9 470.8,933.1 474.1,929.4 477.3,928.8 480.6,933.6 483.8,929.9 487.1,931.1 490.4,925.5 493.6,919.8 496.9,909.4 500.1,897.8 503.4,899.2 506.6,901.5 509.9,897.9 513.1,896.9 516.4,890.5 519.6,895.3 522.9,903.1 526.2,905.0 529.4,899.8 532.7,890.1 535.9,883.3 539.2,881.4 542.4,876.1 545.7,876.1 548.9,874.3 552.2,882.1 555.5,887.8 558.7,890.1 562.0,896.2 565.2,884.9 568.5,873.9 571.7,864.5 575.0,866.1 578.2,861.1 581.5,857.3 584.8,854.1 588.0,859.6 591.3,865.4 594.5,865.9 597.8,866.7 601.0,864.2 604.3,868.3" fill="none" stroke="#5bd04c" stroke-width="1.7" stroke-dasharray="1.7 2.9" opacity="0.85"/>
<polyline points="304.8,1017.4 308.1,1022.0 311.3,1026.5 314.6,1027.7 317.8,1028.8 321.1,1027.7 324.4,1026.5 327.6,1024.2 330.9,1022.0 334.1,1017.4 337.4,1012.8 340.6,1008.2 343.9,1003.7 347.1,1000.9 350.4,992.9 353.6,987.7 356.9,983.7 360.2,983.6 363.4,988.1 366.7,988.1 369.9,990.3 373.2,992.4 376.4,988.9 379.7,981.0 382.9,971.5 386.2,972.1 389.4,971.8 392.7,974.7 396.0,983.6 399.2,979.8 402.5,976.0 405.7,973.7 409.0,971.8 412.2,962.2 415.5,958.3 418.7,964.8 422.0,964.8 425.3,962.4 428.5,959.0 431.8,957.7 435.0,954.9 438.3,949.5 441.5,945.0 444.8,952.8 448.0,940.6 451.3,930.3 454.6,934.8 457.8,931.7 461.1,931.2 464.3,929.4 467.6,925.5 470.8,921.0 474.1,916.3 477.3,917.6 480.6,922.1 483.8,918.6 487.1,918.5 490.4,913.8 493.6,908.4 496.9,896.3 500.1,883.7 503.4,887.6 506.6,888.4 509.9,885.8 513.1,883.2 516.4,877.8 519.6,883.8 522.9,891.8 526.2,894.4 529.4,887.6 532.7,878.2 535.9,872.2 539.2,869.6 542.4,864.4 545.7,862.7 548.9,863.3 552.2,867.9 555.5,875.5 558.7,877.4 562.0,884.0 565.2,871.3 568.5,860.4 571.7,852.0 575.0,853.9 578.2,847.9 581.5,843.6 584.8,842.1 588.0,846.4 591.3,851.4 594.5,853.7 597.8,855.4 601.0,852.8 604.3,855.2" fill="none" stroke="#5bd04c" stroke-width="2.1" stroke-linejoin="round"/>
<polyline points="304.8,1010.5 308.1,1016.7 311.3,1023.1 314.6,1025.8 317.8,1028.6 321.1,1027.2 324.4,1026.1 327.6,1024.6 330.9,1023.3 334.1,1021.1 337.4,1018.6 340.6,1013.0 343.9,1009.0 347.1,1001.8 350.4,994.9 353.6,996.7 356.9,1002.5 360.2,1001.3 363.4,999.6 366.7,997.5 369.9,991.2 373.2,992.1 376.4,993.7 379.7,992.9 382.9,986.1 386.2,988.0 389.4,985.8 392.7,984.2 396.0,985.2 399.2,982.9 402.5,976.3 405.7,980.7 409.0,981.7 412.2,978.4 415.5,974.6 418.7,981.0 422.0,979.3 425.3,974.6 428.5,971.0 431.8,962.3 435.0,961.6 438.3,962.0 441.5,959.9 444.8,949.6 448.0,957.7 451.3,963.2 454.6,951.4 457.8,946.3 461.1,944.7 464.3,945.6 467.6,945.6 470.8,938.6 474.1,936.5 477.3,931.2 480.6,936.2 483.8,940.0 487.1,941.8 490.4,934.6 493.6,928.6 496.9,930.4 500.1,927.9 503.4,927.5 506.6,930.9 509.9,930.8 513.1,933.3 516.4,925.6 519.6,922.7 522.9,914.0 526.2,906.4 529.4,908.0 532.7,910.9 535.9,910.8 539.2,912.0 542.4,909.3 545.7,910.5 548.9,916.7 552.2,914.3 555.5,906.4 558.7,892.0 562.0,896.8 565.2,884.4 568.5,890.4 571.7,892.8 575.0,889.5 578.2,888.3 581.5,879.9 584.8,893.9 588.0,907.9 591.3,903.3 594.5,901.6 597.8,894.0 601.0,883.1 604.3,886.1 607.5,884.4 610.8,881.2 614.0,875.1 617.3,872.9 620.6,875.3 623.8,883.2 627.1,877.4 630.3,876.0 633.6,877.0 636.8,876.7 640.1,875.1 643.3,871.7 646.6,872.0 649.9,868.9 653.1,871.4 656.4,872.1 659.6,867.3 662.9,862.6 666.1,863.6 669.4,864.3 672.6,858.3 675.9,847.2 679.1,849.3 682.4,863.6" fill="none" stroke="#52f514" stroke-width="1.7" stroke-dasharray="1.7 2.9" opacity="0.85"/>
<polyline points="304.8,1019.7 308.1,1024.9 311.3,1029.9 314.6,1031.9 317.8,1032.0 321.1,1032.0 324.4,1031.5 327.6,1030.8 330.9,1029.8 334.1,1027.3 337.4,1025.3 340.6,1021.8 343.9,1016.7 347.1,1012.8 350.4,1007.4 353.6,1009.1 356.9,1012.2 360.2,1011.7 363.4,1010.4 366.7,1008.8 369.9,1004.8 373.2,1004.5 376.4,1004.7 379.7,1005.7 382.9,999.0 386.2,1000.9 389.4,999.5 392.7,995.6 396.0,999.2 399.2,996.9 402.5,990.9 405.7,994.6 409.0,995.2 412.2,991.5 415.5,989.7 418.7,993.0 422.0,993.3 425.3,990.1 428.5,986.3 431.8,979.7 435.0,980.9 438.3,980.9 441.5,975.6 444.8,970.4 448.0,976.2 451.3,978.0 454.6,969.6 457.8,964.7 461.1,962.5 464.3,965.8 467.6,967.9 470.8,958.8 474.1,960.3 477.3,954.4 480.6,955.6 483.8,963.0 487.1,963.1 490.4,959.1 493.6,952.0 496.9,953.9 500.1,948.8 503.4,951.4 506.6,955.7 509.9,955.1 513.1,954.9 516.4,949.3 519.6,944.6 522.9,933.3 526.2,925.3 529.4,927.2 532.7,930.9 535.9,930.5 539.2,933.9 542.4,932.5 545.7,932.7 548.9,938.1 552.2,937.2 555.5,927.1 558.7,913.7 562.0,920.4 565.2,905.7 568.5,910.2 571.7,917.4 575.0,912.9 578.2,909.3 581.5,901.0 584.8,916.0 588.0,930.5 591.3,923.4 594.5,920.2 597.8,914.1 601.0,906.9 604.3,905.7 607.5,906.1 610.8,901.2 614.0,895.1 617.3,892.7 620.6,896.6 623.8,903.0 627.1,896.2 630.3,895.3 633.6,896.8 636.8,898.6 640.1,894.2 643.3,890.5 646.6,893.6 649.9,890.2 653.1,894.6 656.4,891.0 659.6,888.6 662.9,883.9 666.1,882.5 669.4,889.3 672.6,878.4 675.9,866.5 679.1,871.1 682.4,883.3" fill="none" stroke="#52f514" stroke-width="1.7" stroke-dasharray="1.7 2.9" opacity="0.85"/>
<polyline points="304.8,1015.1 308.1,1020.8 311.3,1026.5 314.6,1028.8 317.8,1031.1 321.1,1030.0 324.4,1028.8 327.6,1027.7 330.9,1026.5 334.1,1024.2 337.4,1022.0 340.6,1017.4 343.9,1012.8 347.1,1007.3 350.4,1001.2 353.6,1002.9 356.9,1007.4 360.2,1006.5 363.4,1005.0 366.7,1003.1 369.9,998.0 373.2,998.3 376.4,999.2 379.7,999.3 382.9,992.5 386.2,994.4 389.4,992.7 392.7,989.9 396.0,992.2 399.2,989.9 402.5,983.6 405.7,987.7 409.0,988.5 412.2,985.0 415.5,982.2 418.7,987.0 422.0,986.3 425.3,982.3 428.5,978.6 431.8,971.0 435.0,971.2 438.3,971.5 441.5,967.7 444.8,960.0 448.0,966.9 451.3,970.6 454.6,960.5 457.8,955.5 461.1,953.6 464.3,955.7 467.6,956.8 470.8,948.7 474.1,948.4 477.3,942.8 480.6,945.9 483.8,951.5 487.1,952.4 490.4,946.9 493.6,940.3 496.9,942.1 500.1,938.3 503.4,939.5 506.6,943.3 509.9,942.9 513.1,944.1 516.4,937.4 519.6,933.7 522.9,923.7 526.2,915.9 529.4,917.6 532.7,920.9 535.9,920.6 539.2,923.0 542.4,920.9 545.7,921.6 548.9,927.4 552.2,925.8 555.5,916.8 558.7,902.8 562.0,908.6 565.2,895.1 568.5,900.3 571.7,905.1 575.0,901.2 578.2,898.8 581.5,890.5 584.8,904.9 588.0,919.2 591.3,913.4 594.5,910.9 597.8,904.0 601.0,895.0 604.3,895.9 607.5,895.3 610.8,891.2 614.0,885.1 617.3,882.8 620.6,886.0 623.8,893.1 627.1,886.8 630.3,885.7 633.6,886.9 636.8,887.7 640.1,884.6 643.3,881.1 646.6,882.8 649.9,879.5 653.1,883.0 656.4,881.5 659.6,877.9 662.9,873.3 666.1,873.0 669.4,876.8 672.6,868.3 675.9,856.9 679.1,860.2 682.4,873.4" fill="none" stroke="#52f514" stroke-width="2.1" stroke-linejoin="round"/>
<rect x="289.9" y="711.7" width="4.0" height="321.5" fill="#000"/>
<rect x="285.1" y="1029.1" width="406.3" height="4.1" fill="#000"/>
<rect x="285.1" y="754.9" width="5.4" height="4.0" fill="#000"/>
<text x="245.6" y="763.3" font-size="20.5" textLength="31.5" lengthAdjust="spacingAndGlyphs">0.6</text>
<rect x="285.1" y="800.6" width="5.4" height="4.0" fill="#000"/>
<text x="245.6" y="809.1" font-size="20.5" textLength="31.5" lengthAdjust="spacingAndGlyphs">0.5</text>
<rect x="285.1" y="846.3" width="5.4" height="4.0" fill="#000"/>
<text x="245.6" y="854.9" font-size="20.5" textLength="31.5" lengthAdjust="spacingAndGlyphs">0.4</text>
<rect x="285.1" y="892.0" width="5.4" height="4.0" fill="#000"/>
<text x="245.6" y="898.3" font-size="20.5" textLength="31.5" lengthAdjust="spacingAndGlyphs">0.3</text>
<rect x="285.1" y="937.7" width="5.4" height="4.0" fill="#000"/>
<text x="245.6" y="940.5" font-size="20.5" textLength="31.5" lengthAdjust="spacingAndGlyphs">0.2</text>
<rect x="285.1" y="983.4" width="5.4" height="4.0" fill="#000"/>
<text x="245.6" y="986.7" font-size="20.5" textLength="31.5" lengthAdjust="spacingAndGlyphs">0.1</text>
<rect x="285.1" y="1029.1" width="5.4" height="4.0" fill="#000"/>
<text x="245.6" y="1032.0" font-size="20.5" textLength="31.5" lengthAdjust="spacingAndGlyphs">0.0</text>
<rect x="289.8" y="1031.0" width="4.0" height="6.2" fill="#000"/>
<text x="285.5" y="1063.5" font-size="20.5" textLength="12.6" lengthAdjust="spacingAndGlyphs">0</text>
<rect x="354.9" y="1031.0" width="4.0" height="6.2" fill="#000"/>
<text x="345.5" y="1063.5" font-size="20.5" textLength="25.8" lengthAdjust="spacingAndGlyphs">10</text>
<rect x="420.0" y="1031.0" width="4.0" height="6.2" fill="#000"/>
<text x="410.6" y="1063.5" font-size="20.5" textLength="25.8" lengthAdjust="spacingAndGlyphs">20</text>
<rect x="485.1" y="1031.0" width="4.0" height="6.2" fill="#000"/>
<text x="475.7" y="1063.5" font-size="20.5" textLength="25.8" lengthAdjust="spacingAndGlyphs">30</text>
<rect x="550.2" y="1031.0" width="4.0" height="6.2" fill="#000"/>
<text x="540.8" y="1063.5" font-size="20.5" textLength="25.8" lengthAdjust="spacingAndGlyphs">40</text>
<rect x="615.3" y="1031.0" width="4.0" height="6.2" fill="#000"/>
<text x="605.9" y="1063.5" font-size="20.5" textLength="25.8" lengthAdjust="spacingAndGlyphs">50</text>
<rect x="680.4" y="1031.0" width="4.0" height="6.2" fill="#000"/>
<text x="671.0" y="1063.5" font-size="20.5" textLength="25.8" lengthAdjust="spacingAndGlyphs">60</text>
<text x="218.8" y="980.2" font-size="26" textLength="213.4" lengthAdjust="spacingAndGlyphs" transform="rotate(-90 218.8 980.2)">pressing rate (Hz)</text>
<text x="375.0" y="1095.0" font-size="26" textLength="238.0" lengthAdjust="spacingAndGlyphs">time from reward (s)</text>
</g>
<g id="panelD">
<text x="733.8" y="708.0" font-size="34" font-weight="bold">D</text>
<path d="M844.4,1030.8 L844.4,1027.0 L846.0,1027.0 L847.6,1026.9 L849.2,1026.8 L850.8,1026.7 L852.3,1026.6 L853.9,1026.5 L855.5,1026.4 L857.1,1026.3 L858.7,1026.2 L860.3,1026.1 L861.9,1025.9 L863.4,1025.8 L865.0,1025.7 L866.6,1025.5 L868.2,1025.4 L869.8,1025.2 L871.4,1025.0 L873.0,1024.9 L874.6,1024.7 L876.1,1024.5 L877.7,1024.2 L879.3,1024.0 L880.9,1023.7 L882.5,1023.4 L884.1,1023.1 L885.7,1022.8 L887.3,1022.5 L888.9,1022.1 L890.4,1021.6 L892.0,1021.1 L893.6,1020.6 L895.2,1020.0 L896.8,1019.4 L898.4,1018.6 L900.0,1017.7 L901.5,1016.8 L903.1,1015.6 L904.7,1014.3 L906.3,1012.6 L907.9,1010.7 L909.5,1008.2 L911.1,1005.1 L912.7,1000.9 L914.2,995.2 L914.2,1030.8Z" fill="#5a46d8" fill-opacity="0.45"/>
<path d="M844.4,1030.8 L844.4,1028.2 L846.0,1028.2 L847.6,1028.1 L849.2,1028.1 L850.8,1028.1 L852.3,1028.0 L853.9,1028.0 L855.5,1028.0 L857.1,1027.9 L858.7,1027.9 L860.3,1027.9 L861.9,1027.9 L863.4,1027.8 L865.0,1027.8 L866.6,1027.7 L868.2,1027.7 L869.8,1027.7 L871.4,1027.6 L873.0,1027.6 L874.6,1027.5 L876.1,1027.5 L877.7,1027.5 L879.3,1027.4 L880.9,1027.4 L882.5,1027.3 L884.1,1027.3 L885.7,1027.2 L887.3,1027.2 L888.9,1027.1 L890.4,1027.1 L892.0,1027.0 L893.6,1027.0 L895.2,1026.9 L896.8,1026.8 L898.4,1026.8 L900.0,1026.7 L901.5,1026.6 L903.1,1026.6 L904.7,1026.5 L906.3,1026.4 L907.9,1026.4 L909.5,1026.3 L911.1,1026.2 L912.7,1026.1 L914.2,1026.0 L915.8,1025.9 L917.4,1025.8 L919.0,1025.7 L920.6,1025.6 L922.2,1025.5 L923.8,1025.4 L925.4,1025.3 L926.9,1025.2 L928.5,1025.0 L930.1,1024.9 L931.7,1024.8 L933.3,1024.6 L934.9,1024.5 L936.5,1024.3 L938.1,1024.1 L939.6,1024.0 L941.2,1023.8 L942.8,1023.6 L944.4,1023.4 L946.0,1023.1 L947.6,1022.9 L949.2,1022.7 L950.8,1022.4 L952.3,1022.1 L953.9,1021.8 L955.5,1021.5 L957.1,1021.1 L958.7,1020.7 L960.3,1020.3 L961.9,1019.8 L963.5,1019.3 L965.0,1018.8 L966.6,1018.2 L968.2,1017.6 L969.8,1016.8 L971.4,1016.0 L973.0,1015.1 L974.6,1014.1 L976.2,1012.9 L977.8,1011.5 L979.3,1010.0 L980.9,1008.1 L982.5,1005.9 L984.1,1003.2 L985.7,999.8 L987.3,995.5 L988.9,989.8 L990.4,981.9 L990.4,1030.8Z" fill="#5a7cae" fill-opacity="0.45"/>
<path d="M844.4,1030.8 L844.4,1028.1 L846.0,1028.1 L847.6,1028.1 L849.2,1028.0 L850.8,1028.0 L852.3,1028.0 L853.9,1028.0 L855.5,1028.0 L857.1,1027.9 L858.7,1027.9 L860.3,1027.9 L861.9,1027.9 L863.4,1027.8 L865.0,1027.8 L866.6,1027.8 L868.2,1027.8 L869.8,1027.8 L871.4,1027.7 L873.0,1027.7 L874.6,1027.7 L876.1,1027.7 L877.7,1027.6 L879.3,1027.6 L880.9,1027.6 L882.5,1027.5 L884.1,1027.5 L885.7,1027.5 L887.3,1027.5 L888.9,1027.4 L890.4,1027.4 L892.0,1027.4 L893.6,1027.3 L895.2,1027.3 L896.8,1027.3 L898.4,1027.2 L900.0,1027.2 L901.5,1027.2 L903.1,1027.1 L904.7,1027.1 L906.3,1027.1 L907.9,1027.0 L909.5,1027.0 L911.1,1027.0 L912.7,1026.9 L914.2,1026.9 L915.8,1026.8 L917.4,1026.8 L919.0,1026.8 L920.6,1026.7 L922.2,1026.7 L923.8,1026.6 L925.4,1026.6 L926.9,1026.5 L928.5,1026.5 L930.1,1026.4 L931.7,1026.4 L933.3,1026.3 L934.9,1026.3 L936.5,1026.2 L938.1,1026.2 L939.6,1026.1 L941.2,1026.1 L942.8,1026.0 L944.4,1026.0 L946.0,1025.9 L947.6,1025.8 L949.2,1025.8 L950.8,1025.7 L952.3,1025.6 L953.9,1025.6 L955.5,1025.5 L957.1,1025.4 L958.7,1025.3 L960.3,1025.3 L961.9,1025.2 L963.5,1025.1 L965.0,1025.0 L966.6,1024.9 L968.2,1024.8 L969.8,1024.7 L971.4,1024.6 L973.0,1024.5 L974.6,1024.4 L976.2,1024.3 L977.8,1024.2 L979.3,1024.1 L980.9,1024.0 L982.5,1023.9 L984.1,1023.7 L985.7,1023.6 L987.3,1023.5 L988.9,1023.3 L990.4,1023.2 L992.0,1023.0 L993.6,1022.8 L995.2,1022.7 L996.8,1022.5 L998.4,1022.3 L1000.0,1022.1 L1001.6,1021.9 L1003.1,1021.7 L1004.7,1021.5 L1006.3,1021.3 L1007.9,1021.0 L1009.5,1020.8 L1011.1,1020.5 L1012.7,1020.2 L1014.3,1019.9 L1015.8,1019.6 L1017.4,1019.3 L1019.0,1018.9 L1020.6,1018.5 L1022.2,1018.1 L1023.8,1017.7 L1025.4,1017.2 L1027.0,1016.7 L1028.5,1016.2 L1030.1,1015.6 L1031.7,1015.0 L1033.3,1014.3 L1034.9,1013.6 L1036.5,1012.8 L1038.1,1011.9 L1039.7,1011.0 L1041.2,1009.9 L1042.8,1008.7 L1044.4,1007.3 L1046.0,1005.8 L1047.6,1004.1 L1049.2,1002.1 L1050.8,999.8 L1052.4,997.0 L1054.0,993.8 L1055.5,989.8 L1057.1,985.0 L1058.7,978.8 L1060.3,977.3 L1061.9,977.3 L1063.5,977.3 L1065.1,977.3 L1066.7,977.3 L1066.7,1030.8Z" fill="#4f9d74" fill-opacity="0.45"/>
<path d="M844.4,1030.8 L844.4,1028.5 L846.0,1028.5 L847.6,1028.4 L849.2,1028.4 L850.8,1028.4 L852.3,1028.4 L853.9,1028.4 L855.5,1028.4 L857.1,1028.4 L858.7,1028.4 L860.3,1028.3 L861.9,1028.3 L863.4,1028.3 L865.0,1028.3 L866.6,1028.3 L868.2,1028.3 L869.8,1028.3 L871.4,1028.2 L873.0,1028.2 L874.6,1028.2 L876.1,1028.2 L877.7,1028.2 L879.3,1028.2 L880.9,1028.1 L882.5,1028.1 L884.1,1028.1 L885.7,1028.1 L887.3,1028.1 L888.9,1028.1 L890.4,1028.1 L892.0,1028.0 L893.6,1028.0 L895.2,1028.0 L896.8,1028.0 L898.4,1028.0 L900.0,1027.9 L901.5,1027.9 L903.1,1027.9 L904.7,1027.9 L906.3,1027.9 L907.9,1027.9 L909.5,1027.8 L911.1,1027.8 L912.7,1027.8 L914.2,1027.8 L915.8,1027.8 L917.4,1027.7 L919.0,1027.7 L920.6,1027.7 L922.2,1027.7 L923.8,1027.6 L925.4,1027.6 L926.9,1027.6 L928.5,1027.6 L930.1,1027.6 L931.7,1027.5 L933.3,1027.5 L934.9,1027.5 L936.5,1027.5 L938.1,1027.4 L939.6,1027.4 L941.2,1027.4 L942.8,1027.4 L944.4,1027.3 L946.0,1027.3 L947.6,1027.3 L949.2,1027.2 L950.8,1027.2 L952.3,1027.2 L953.9,1027.2 L955.5,1027.1 L957.1,1027.1 L958.7,1027.1 L960.3,1027.0 L961.9,1027.0 L963.5,1027.0 L965.0,1026.9 L966.6,1026.9 L968.2,1026.9 L969.8,1026.8 L971.4,1026.8 L973.0,1026.8 L974.6,1026.7 L976.2,1026.7 L977.8,1026.7 L979.3,1026.6 L980.9,1026.6 L982.5,1026.5 L984.1,1026.5 L985.7,1026.5 L987.3,1026.4 L988.9,1026.4 L990.4,1026.3 L992.0,1026.3 L993.6,1026.2 L995.2,1026.2 L996.8,1026.1 L998.4,1026.1 L1000.0,1026.0 L1001.6,1026.0 L1003.1,1025.9 L1004.7,1025.9 L1006.3,1025.8 L1007.9,1025.8 L1009.5,1025.7 L1011.1,1025.7 L1012.7,1025.6 L1014.3,1025.5 L1015.8,1025.5 L1017.4,1025.4 L1019.0,1025.3 L1020.6,1025.3 L1022.2,1025.2 L1023.8,1025.1 L1025.4,1025.1 L1027.0,1025.0 L1028.5,1024.9 L1030.1,1024.8 L1031.7,1024.7 L1033.3,1024.7 L1034.9,1024.6 L1036.5,1024.5 L1038.1,1024.4 L1039.7,1024.3 L1041.2,1024.2 L1042.8,1024.1 L1044.4,1024.0 L1046.0,1023.9 L1047.6,1023.8 L1049.2,1023.7 L1050.8,1023.6 L1052.4,1023.5 L1054.0,1023.3 L1055.5,1023.2 L1057.1,1023.1 L1058.7,1022.9 L1060.3,1022.8 L1061.9,1022.7 L1063.5,1022.5 L1065.1,1022.3 L1066.7,1022.2 L1068.2,1022.0 L1069.8,1021.8 L1071.4,1021.7 L1073.0,1021.5 L1074.6,1021.3 L1076.2,1021.1 L1077.8,1020.8 L1079.3,1020.6 L1080.9,1020.4 L1082.5,1020.1 L1084.1,1019.9 L1085.7,1019.6 L1087.3,1019.3 L1088.9,1019.0 L1090.5,1018.7 L1092.0,1018.4 L1093.6,1018.0 L1095.2,1017.6 L1096.8,1017.2 L1098.4,1016.8 L1100.0,1016.4 L1101.6,1015.9 L1103.2,1015.4 L1104.8,1014.8 L1106.3,1014.2 L1107.9,1013.6 L1109.5,1012.9 L1111.1,1012.1 L1112.7,1011.3 L1114.3,1010.4 L1115.9,1009.5 L1117.5,1008.4 L1119.0,1007.2 L1120.6,1005.9 L1122.2,1004.5 L1123.8,1002.8 L1125.4,1000.9 L1127.0,998.8 L1128.6,996.3 L1130.2,993.5 L1131.7,990.1 L1133.3,986.0 L1134.9,981.0 L1136.5,974.8 L1138.1,966.8 L1139.7,956.2 L1141.3,941.2 L1142.8,918.8 L1142.8,1030.8Z" fill="#5bd04c" fill-opacity="0.45"/>
<path d="M844.4,1030.8 L844.4,1028.9 L846.0,1028.9 L847.6,1028.9 L849.2,1028.9 L850.8,1028.9 L852.3,1028.9 L853.9,1028.9 L855.5,1028.9 L857.1,1028.9 L858.7,1028.9 L860.3,1028.9 L861.9,1028.8 L863.4,1028.8 L865.0,1028.8 L866.6,1028.8 L868.2,1028.8 L869.8,1028.8 L871.4,1028.8 L873.0,1028.8 L874.6,1028.8 L876.1,1028.7 L877.7,1028.7 L879.3,1028.7 L880.9,1028.7 L882.5,1028.7 L884.1,1028.7 L885.7,1028.7 L887.3,1028.7 L888.9,1028.6 L890.4,1028.6 L892.0,1028.6 L893.6,1028.6 L895.2,1028.6 L896.8,1028.6 L898.4,1028.6 L900.0,1028.6 L901.5,1028.6 L903.1,1028.5 L904.7,1028.5 L906.3,1028.5 L907.9,1028.5 L909.5,1028.5 L911.1,1028.5 L912.7,1028.5 L914.2,1028.5 L915.8,1028.4 L917.4,1028.4 L919.0,1028.4 L920.6,1028.4 L922.2,1028.4 L923.8,1028.4 L925.4,1028.4 L926.9,1028.4 L928.5,1028.4 L930.1,1028.3 L931.7,1028.3 L933.3,1028.3 L934.9,1028.3 L936.5,1028.3 L938.1,1028.3 L939.6,1028.3 L941.2,1028.3 L942.8,1028.3 L944.4,1028.2 L946.0,1028.2 L947.6,1028.2 L949.2,1028.2 L950.8,1028.2 L952.3,1028.2 L953.9,1028.2 L955.5,1028.2 L957.1,1028.1 L958.7,1028.1 L960.3,1028.1 L961.9,1028.1 L963.5,1028.1 L965.0,1028.1 L966.6,1028.1 L968.2,1028.1 L969.8,1028.0 L971.4,1028.0 L973.0,1028.0 L974.6,1028.0 L976.2,1028.0 L977.8,1028.0 L979.3,1027.9 L980.9,1027.9 L982.5,1027.9 L984.1,1027.9 L985.7,1027.9 L987.3,1027.8 L988.9,1027.8 L990.4,1027.8 L992.0,1027.8 L993.6,1027.8 L995.2,1027.7 L996.8,1027.7 L998.4,1027.7 L1000.0,1027.7 L1001.6,1027.7 L1003.1,1027.6 L1004.7,1027.6 L1006.3,1027.6 L1007.9,1027.6 L1009.5,1027.5 L1011.1,1027.5 L1012.7,1027.5 L1014.3,1027.5 L1015.8,1027.4 L1017.4,1027.4 L1019.0,1027.4 L1020.6,1027.4 L1022.2,1027.3 L1023.8,1027.3 L1025.4,1027.3 L1027.0,1027.3 L1028.5,1027.2 L1030.1,1027.2 L1031.7,1027.2 L1033.3,1027.1 L1034.9,1027.1 L1036.5,1027.1 L1038.1,1027.1 L1039.7,1027.0 L1041.2,1027.0 L1042.8,1027.0 L1044.4,1026.9 L1046.0,1026.9 L1047.6,1026.9 L1049.2,1026.8 L1050.8,1026.8 L1052.4,1026.7 L1054.0,1026.7 L1055.5,1026.7 L1057.1,1026.6 L1058.7,1026.6 L1060.3,1026.6 L1061.9,1026.5 L1063.5,1026.5 L1065.1,1026.4 L1066.7,1026.4 L1068.2,1026.3 L1069.8,1026.3 L1071.4,1026.3 L1073.0,1026.2 L1074.6,1026.2 L1076.2,1026.1 L1077.8,1026.1 L1079.3,1026.0 L1080.9,1026.0 L1082.5,1025.9 L1084.1,1025.8 L1085.7,1025.8 L1087.3,1025.7 L1088.9,1025.7 L1090.5,1025.6 L1092.0,1025.6 L1093.6,1025.5 L1095.2,1025.4 L1096.8,1025.4 L1098.4,1025.3 L1100.0,1025.2 L1101.6,1025.2 L1103.2,1025.1 L1104.8,1025.0 L1106.3,1024.9 L1107.9,1024.9 L1109.5,1024.8 L1111.1,1024.7 L1112.7,1024.6 L1114.3,1024.5 L1115.9,1024.4 L1117.5,1024.3 L1119.0,1024.2 L1120.6,1024.2 L1122.2,1024.1 L1123.8,1023.9 L1125.4,1023.8 L1127.0,1023.7 L1128.6,1023.6 L1130.2,1023.5 L1131.7,1023.4 L1133.3,1023.3 L1134.9,1023.1 L1136.5,1023.0 L1138.1,1022.9 L1139.7,1022.7 L1141.3,1022.6 L1142.8,1022.4 L1144.4,1022.2 L1146.0,1022.1 L1147.6,1021.9 L1149.2,1021.7 L1150.8,1021.5 L1152.4,1021.3 L1154.0,1021.1 L1155.5,1020.9 L1157.1,1020.7 L1158.7,1020.5 L1160.3,1020.2 L1161.9,1020.0 L1163.5,1019.7 L1165.1,1019.4 L1166.7,1019.1 L1168.2,1018.8 L1169.8,1018.5 L1171.4,1018.1 L1173.0,1017.7 L1174.6,1017.3 L1176.2,1016.9 L1177.8,1016.5 L1179.4,1016.0 L1180.9,1015.5 L1182.5,1015.0 L1184.1,1014.4 L1185.7,1013.7 L1187.3,1013.1 L1188.9,1012.3 L1190.5,1011.5 L1192.1,1010.7 L1193.7,1009.7 L1195.2,1008.7 L1196.8,1007.5 L1198.4,1006.3 L1200.0,1004.8 L1201.6,1003.2 L1203.2,1001.4 L1204.8,999.3 L1206.3,997.0 L1207.9,994.2 L1209.5,990.9 L1211.1,987.0 L1212.7,982.2 L1214.3,976.3 L1215.9,968.7 L1217.5,958.7 L1219.0,944.9 L1219.0,1030.8Z" fill="#52f514" fill-opacity="0.45"/>
<polyline points="888.9,818.8 894.2,799.1 900.3,816.0 906.6,803.7 910.4,816.0 913.6,831.1" fill="none" stroke="#5a46d8" stroke-width="2.3" stroke-dasharray="2.6 2.8" stroke-linejoin="round"/>
<polyline points="939.0,842.5 945.4,821.5 952.3,824.2 958.7,827.4 966.3,843.4 975.2,865.4 980.9,848.0 987.3,816.0" fill="none" stroke="#5a7cae" stroke-width="2.3" stroke-dasharray="2.6 2.8" stroke-linejoin="round"/>
<polyline points="983.5,809.6 986.6,816.0 991.1,845.3 1001.9,849.8 1009.5,835.7 1017.1,842.1 1023.5,832.9 1031.1,857.1 1038.7,875.9 1047.6,823.8 1057.1,842.1 1062.8,825.1 1066.0,751.6 1067.3,843.4" fill="none" stroke="#4f9d74" stroke-width="2.3" stroke-dasharray="2.6 2.8" stroke-linejoin="round"/>
<polyline points="1032.4,871.3 1040.0,881.8 1047.6,851.2 1057.1,854.4 1067.9,845.3 1080.0,829.7 1087.6,851.2 1097.1,843.4 1106.0,866.3 1115.5,851.2 1123.2,842.1 1127.6,838.9 1130.8,732.8 1135.9,802.3 1141.6,915.6" fill="none" stroke="#5bd04c" stroke-width="2.3" stroke-dasharray="2.6 2.8" stroke-linejoin="round"/>
<polyline points="1090.8,859.0 1098.4,905.1 1106.0,866.3 1118.7,872.7 1129.5,881.8 1140.3,863.5 1152.4,883.6 1167.6,874.0 1177.1,863.5 1184.8,885.0 1193.7,924.8 1201.3,866.7 1209.5,845.3 1212.1,791.3 1215.2,834.3 1218.4,879.1" fill="none" stroke="#52f514" stroke-width="2.3" stroke-dasharray="2.6 2.8" stroke-linejoin="round"/>
<polyline points="848.2,1030.8 850.8,966.8 853.9,907.4 855.8,898.7 867.9,912.4 876.1,905.1 886.3,906.5 895.8,915.6 903.5,905.1 909.8,908.3 914.2,926.6 921.9,895.5 926.3,901.9 937.1,892.8 946.6,901.9 951.1,880.4 955.5,879.1 965.0,898.7 971.4,891.0 983.5,895.5 991.1,874.0 997.4,881.8 1005.1,875.9 1009.5,879.1 1020.3,871.3 1027.9,881.8 1034.3,877.2 1041.9,883.6 1047.6,869.5 1054.0,863.5 1060.3,866.7 1066.7,877.2 1072.4,866.7 1080.0,871.3 1090.8,859.0" fill="none" stroke="#52f514" stroke-width="3.1" stroke-linejoin="round"/>
<polyline points="848.2,1030.8 850.8,962.2 853.9,900.6 855.8,892.8 863.4,895.5 873.0,906.5 881.9,892.8 891.4,906.5 900.3,897.4 906.6,896.0 914.2,886.4 921.9,897.4 932.7,883.6 939.0,894.2 947.9,875.9 955.5,874.5 965.0,866.7 971.4,857.1 980.3,866.7 987.9,875.9 996.8,857.1 1003.1,863.5 1015.8,857.1 1023.5,864.9 1032.4,871.3" fill="none" stroke="#5bd04c" stroke-width="3.1" stroke-linejoin="round"/>
<polyline points="848.2,1030.8 850.8,962.2 853.9,889.1 855.8,877.2 860.9,876.3 867.9,884.1 876.1,880.4 882.5,880.9 888.9,869.9 895.2,873.6 901.5,849.4 907.9,857.1 916.8,850.7 926.3,848.0 933.3,851.7 940.3,857.6 946.0,844.8 955.5,850.3 958.7,849.4 965.0,838.4 972.7,854.9 977.8,868.1 980.9,848.0 983.5,809.6" fill="none" stroke="#4f9d74" stroke-width="3.1" stroke-linejoin="round"/>
<polyline points="847.9,1030.8 850.1,962.2 853.3,880.0 855.8,857.6 857.1,857.1 862.2,867.7 864.7,866.7 876.8,844.8 880.6,844.8 887.6,853.0 888.9,852.6 894.9,825.6 900.3,826.1 906.9,836.6 908.5,836.1 913.6,811.9 915.5,812.4 920.0,819.2 926.9,818.8 933.3,830.6 939.0,842.5" fill="none" stroke="#5a7cae" stroke-width="3.1" stroke-linejoin="round"/>
<polyline points="844.4,1030.8 846.6,962.2 849.5,880.0 849.9,835.2 852.0,821.5 855.8,806.0 858.4,804.6 861.9,811.4 864.1,811.9 869.2,779.4 876.1,786.3 882.2,790.9 885.0,802.3 888.9,818.8" fill="none" stroke="#5a46d8" stroke-width="3.1" stroke-linejoin="round"/>
<rect x="818.4" y="711.3" width="4.0" height="321.6" fill="#000"/>
<rect x="813.4" y="1028.7" width="408.6" height="4.2" fill="#000"/>
<rect x="813.4" y="753.0" width="5.6" height="4.0" fill="#000"/>
<text x="774.8" y="758.4" font-size="20.5" textLength="30.8" lengthAdjust="spacingAndGlyphs">0.6</text>
<rect x="813.4" y="798.9" width="5.6" height="4.0" fill="#000"/>
<text x="774.8" y="804.9" font-size="20.5" textLength="30.8" lengthAdjust="spacingAndGlyphs">0.5</text>
<rect x="813.4" y="846.3" width="5.6" height="4.0" fill="#000"/>
<text x="774.8" y="851.5" font-size="20.5" textLength="30.8" lengthAdjust="spacingAndGlyphs">0.4</text>
<rect x="813.4" y="889.9" width="5.6" height="4.0" fill="#000"/>
<text x="774.8" y="894.1" font-size="20.5" textLength="30.8" lengthAdjust="spacingAndGlyphs">0.3</text>
<rect x="813.4" y="935.8" width="5.6" height="4.0" fill="#000"/>
<text x="774.8" y="941.1" font-size="20.5" textLength="30.8" lengthAdjust="spacingAndGlyphs">0.2</text>
<rect x="813.4" y="983.0" width="5.6" height="4.0" fill="#000"/>
<text x="774.8" y="987.9" font-size="20.5" textLength="30.8" lengthAdjust="spacingAndGlyphs">0.1</text>
<rect x="813.4" y="1028.8" width="5.6" height="4.0" fill="#000"/>
<text x="774.8" y="1035.2" font-size="20.5" textLength="30.8" lengthAdjust="spacingAndGlyphs">0.0</text>
<rect x="818.3" y="1031.0" width="4.0" height="6.2" fill="#000"/>
<text x="805.9" y="1063.5" font-size="20.5" textLength="19.2" lengthAdjust="spacingAndGlyphs">-4</text>
<rect x="848.7" y="1031.0" width="4.0" height="6.2" fill="#000"/>
<text x="844.4" y="1063.5" font-size="20.5" textLength="12.6" lengthAdjust="spacingAndGlyphs">0</text>
<rect x="905.0" y="1031.0" width="4.0" height="6.2" fill="#000"/>
<text x="894.1" y="1063.5" font-size="20.5" textLength="25.8" lengthAdjust="spacingAndGlyphs">10</text>
<rect x="968.0" y="1031.0" width="4.0" height="6.2" fill="#000"/>
<text x="957.1" y="1063.5" font-size="20.5" textLength="25.8" lengthAdjust="spacingAndGlyphs">20</text>
<rect x="1031.1" y="1031.0" width="4.0" height="6.2" fill="#000"/>
<text x="1020.2" y="1063.5" font-size="20.5" textLength="25.8" lengthAdjust="spacingAndGlyphs">30</text>
<rect x="1094.4" y="1031.0" width="4.0" height="6.2" fill="#000"/>
<text x="1083.5" y="1063.5" font-size="20.5" textLength="25.8" lengthAdjust="spacingAndGlyphs">40</text>
<rect x="1157.1" y="1031.0" width="4.0" height="6.2" fill="#000"/>
<text x="1146.2" y="1063.5" font-size="20.5" textLength="25.8" lengthAdjust="spacingAndGlyphs">50</text>
<rect x="1217.9" y="1031.0" width="4.0" height="6.2" fill="#000"/>
<text x="1207.0" y="1063.5" font-size="20.5" textLength="25.8" lengthAdjust="spacingAndGlyphs">60</text>
<text x="758.3" y="980.0" font-size="26" textLength="213.0" lengthAdjust="spacingAndGlyphs" transform="rotate(-90 758.3 980.0)">pressing rate (Hz)</text>
<text x="896.5" y="1095.0" font-size="26" textLength="273.5" lengthAdjust="spacingAndGlyphs">time from first press (s)</text>
</g>
<g id="panelE">
<text x="1262.4" y="708.5" font-size="34.5" font-weight="bold">E</text>
<line x1="1385.9" y1="1020.4" x2="1638.9" y2="717.3" stroke="#d4d4d4" stroke-width="5" stroke-dasharray="10.6 9.4"/>
<rect x="1424.2" y="983.6" width="2.9" height="23.0" fill="#5a46d8"/>
<rect x="1422.2" y="983.6" width="7.0" height="3.6" fill="#5a46d8"/>
<rect x="1422.2" y="1003.0" width="7.0" height="3.6" fill="#5a46d8"/>
<circle cx="1425.7" cy="995.6" r="5.7" fill="#5a46d8"/>
<rect x="1473.8" y="946.5" width="2.9" height="45.1" fill="#5a7cae"/>
<rect x="1471.8" y="946.5" width="7.0" height="3.6" fill="#5a7cae"/>
<rect x="1471.8" y="988.0" width="7.0" height="3.6" fill="#5a7cae"/>
<circle cx="1475.3" cy="970.6" r="5.7" fill="#5a7cae"/>
<rect x="1524.8" y="910.3" width="2.9" height="67.2" fill="#4f9d74"/>
<rect x="1522.8" y="910.3" width="7.0" height="3.6" fill="#4f9d74"/>
<rect x="1522.8" y="973.9" width="7.0" height="3.6" fill="#4f9d74"/>
<circle cx="1526.3" cy="943.1" r="5.7" fill="#4f9d74"/>
<rect x="1575.3" y="876.6" width="2.9" height="85.1" fill="#5bd04c"/>
<rect x="1573.3" y="876.6" width="7.0" height="3.6" fill="#5bd04c"/>
<rect x="1573.3" y="958.1" width="7.0" height="3.6" fill="#5bd04c"/>
<circle cx="1576.8" cy="920.1" r="5.7" fill="#5bd04c"/>
<rect x="1626.5" y="850.4" width="2.9" height="105.0" fill="#52f514"/>
<rect x="1624.4" y="850.4" width="7.0" height="3.6" fill="#52f514"/>
<rect x="1624.4" y="951.8" width="7.0" height="3.6" fill="#52f514"/>
<circle cx="1627.9" cy="907.1" r="5.7" fill="#52f514"/>
<rect x="1370.6" y="707.2" width="4.0" height="326.0" fill="#000"/>
<rect x="1365.9" y="1029.1" width="300.4" height="4.1" fill="#000"/>
<rect x="1365.9" y="1029.1" width="5.1" height="4.0" fill="#000"/>
<text x="1345.8" y="1039.8" font-size="20.5" textLength="11.6" lengthAdjust="spacingAndGlyphs">0</text>
<rect x="1370.4" y="1031.0" width="4.0" height="6.2" fill="#000"/>
<text x="1368.0" y="1063.5" font-size="20.5" textLength="12.4" lengthAdjust="spacingAndGlyphs">0</text>
<rect x="1365.9" y="976.7" width="5.1" height="4.0" fill="#000"/>
<text x="1332.6" y="988.9" font-size="20.5" textLength="24.8" lengthAdjust="spacingAndGlyphs">10</text>
<rect x="1413.1" y="1031.0" width="4.0" height="6.2" fill="#000"/>
<text x="1404.4" y="1063.5" font-size="20.5" textLength="26.0" lengthAdjust="spacingAndGlyphs">10</text>
<rect x="1365.9" y="924.8" width="5.1" height="4.0" fill="#000"/>
<text x="1332.6" y="937.4" font-size="20.5" textLength="24.8" lengthAdjust="spacingAndGlyphs">20</text>
<rect x="1455.8" y="1031.0" width="4.0" height="6.2" fill="#000"/>
<text x="1447.6" y="1063.5" font-size="20.5" textLength="26.0" lengthAdjust="spacingAndGlyphs">20</text>
<rect x="1365.9" y="874.7" width="5.1" height="4.0" fill="#000"/>
<text x="1332.6" y="885.4" font-size="20.5" textLength="24.8" lengthAdjust="spacingAndGlyphs">30</text>
<rect x="1498.5" y="1031.0" width="4.0" height="6.2" fill="#000"/>
<text x="1489.3" y="1063.5" font-size="20.5" textLength="26.0" lengthAdjust="spacingAndGlyphs">30</text>
<rect x="1365.9" y="822.5" width="5.1" height="4.0" fill="#000"/>
<text x="1332.6" y="833.4" font-size="20.5" textLength="24.8" lengthAdjust="spacingAndGlyphs">40</text>
<rect x="1541.2" y="1031.0" width="4.0" height="6.2" fill="#000"/>
<text x="1531.1" y="1063.5" font-size="20.5" textLength="26.0" lengthAdjust="spacingAndGlyphs">40</text>
<rect x="1365.9" y="770.5" width="5.1" height="4.0" fill="#000"/>
<text x="1332.6" y="781.6" font-size="20.5" textLength="24.8" lengthAdjust="spacingAndGlyphs">50</text>
<rect x="1583.9" y="1031.0" width="4.0" height="6.2" fill="#000"/>
<text x="1573.7" y="1063.5" font-size="20.5" textLength="26.0" lengthAdjust="spacingAndGlyphs">50</text>
<rect x="1365.9" y="718.0" width="5.1" height="4.0" fill="#000"/>
<text x="1332.6" y="727.4" font-size="20.5" textLength="24.8" lengthAdjust="spacingAndGlyphs">60</text>
<rect x="1626.6" y="1031.0" width="4.0" height="6.2" fill="#000"/>
<text x="1615.2" y="1063.5" font-size="20.5" textLength="26.0" lengthAdjust="spacingAndGlyphs">60</text>
<text x="1318.3" y="1001.1" font-size="26" textLength="255.4" lengthAdjust="spacingAndGlyphs" transform="rotate(-90 1318.3 1001.1)">pressing start time (s)</text>
<text x="1395.4" y="1095.0" font-size="26" textLength="246.7" lengthAdjust="spacingAndGlyphs">fixed interval time (s)</text>
<path d="M1698.4,1027.0C1699.1,1026.7 1701.4,1026.0 1702.9,1025.5C1704.3,1025.1 1705.8,1024.6 1707.3,1024.1C1708.8,1023.6 1710.2,1023.1 1711.7,1022.7C1713.2,1022.2 1714.8,1021.7 1716.3,1021.2C1717.9,1020.8 1719.7,1020.2 1721.3,1019.8C1722.8,1019.4 1724.0,1019.2 1725.5,1018.8C1727.0,1018.5 1728.7,1018.2 1730.3,1017.9C1731.9,1017.6 1733.7,1017.2 1735.2,1016.9C1736.7,1016.6 1737.9,1016.3 1739.5,1016.0C1741.1,1015.7 1743.0,1015.3 1744.7,1015.0C1746.3,1014.7 1748.0,1014.4 1749.6,1014.1C1751.1,1013.7 1752.6,1013.4 1753.9,1013.0C1755.1,1012.7 1755.9,1012.4 1757.1,1012.0C1758.4,1011.7 1760.1,1011.3 1761.5,1011.0C1762.8,1010.6 1763.9,1010.3 1765.3,1010.0C1766.8,1009.6 1768.8,1009.3 1770.3,1008.9C1771.8,1008.6 1773.0,1008.3 1774.2,1007.9C1775.4,1007.6 1776.0,1007.3 1777.6,1006.9C1779.1,1006.5 1781.6,1006.1 1783.3,1005.7C1785.0,1005.4 1786.4,1005.0 1787.8,1004.6C1789.3,1004.2 1790.6,1003.8 1792.1,1003.4C1793.5,1003.1 1795.2,1002.7 1796.6,1002.3C1798.0,1001.9 1799.0,1001.8 1800.6,1001.2C1802.2,1000.5 1805.5,999.2 1806.2,998.3C1806.9,997.3 1805.4,996.4 1804.7,995.4C1804.0,994.5 1803.3,993.3 1801.9,992.6C1800.6,991.8 1798.6,991.6 1796.8,991.1C1795.1,990.6 1793.4,990.2 1791.7,989.7C1789.9,989.2 1787.7,988.7 1786.1,988.3C1784.5,987.8 1783.5,987.5 1782.1,987.1C1780.6,986.7 1778.9,986.3 1777.5,986.0C1776.0,985.6 1774.9,985.2 1773.4,984.8C1771.8,984.4 1769.9,984.0 1768.4,983.7C1766.8,983.3 1765.4,982.9 1763.9,982.5C1762.5,982.1 1761.1,981.8 1759.7,981.4C1758.4,981.0 1757.3,980.6 1755.9,980.2C1754.6,979.8 1753.1,979.5 1751.7,979.1C1750.3,978.7 1748.7,978.3 1747.4,977.9C1746.2,977.5 1745.5,977.1 1744.3,976.8C1743.0,976.4 1741.4,976.1 1740.0,975.7C1738.5,975.3 1737.0,975.0 1735.5,974.6C1734.0,974.3 1732.6,973.9 1731.0,973.6C1729.5,973.2 1727.9,972.9 1726.3,972.5C1724.7,972.1 1723.0,971.6 1721.4,971.2C1719.8,970.8 1718.3,970.4 1716.7,970.0C1715.0,969.6 1713.0,969.2 1711.6,968.7C1710.2,968.3 1709.5,967.8 1708.2,967.3C1706.8,966.8 1704.8,966.7 1703.4,965.9C1702.0,965.1 1700.4,963.6 1699.7,962.4C1698.9,961.3 1698.9,960.1 1698.9,958.9C1698.8,957.7 1699.3,956.5 1699.4,955.3C1699.4,954.1 1699.2,952.9 1699.0,951.7C1698.8,950.5 1698.2,949.3 1698.0,948.1C1697.8,946.9 1697.9,945.9 1698.0,944.7C1698.2,943.6 1698.8,942.5 1698.8,941.4C1698.9,940.2 1698.3,939.1 1698.3,938.0C1698.3,936.9 1698.9,935.7 1698.9,934.6C1698.9,933.5 1698.3,932.4 1698.2,931.2C1698.0,930.1 1698.0,929.0 1698.0,927.9C1698.0,926.7 1698.3,925.6 1698.4,924.5C1698.5,923.4 1698.6,922.2 1698.6,921.1C1698.5,920.0 1698.1,918.9 1698.0,917.7C1697.9,916.6 1698.0,915.5 1698.0,914.4C1698.0,913.2 1697.9,912.1 1698.0,911.0C1698.1,909.9 1698.7,908.7 1698.7,907.6C1698.8,906.5 1698.6,905.4 1698.5,904.2C1698.3,903.1 1698.1,902.0 1698.0,900.9C1697.9,899.7 1698.0,898.6 1698.0,897.5C1698.0,896.4 1698.0,895.2 1698.0,894.1C1698.0,893.0 1697.9,891.9 1698.0,890.7C1698.1,889.6 1698.4,888.5 1698.4,887.4C1698.4,886.3 1698.0,885.2 1698.0,884.1C1698.0,883.0 1698.2,881.9 1698.2,880.8C1698.2,879.7 1698.1,878.6 1698.0,877.5C1698.0,876.4 1697.9,875.3 1698.0,874.2C1698.1,873.1 1698.4,872.0 1698.4,870.9C1698.4,869.8 1698.0,868.7 1698.0,867.6C1698.0,866.5 1698.3,865.4 1698.3,864.3C1698.3,863.2 1698.0,862.1 1698.0,861.0C1698.0,859.9 1698.0,858.8 1698.0,857.7C1698.0,856.6 1698.0,855.4 1698.0,854.3C1698.0,853.2 1697.9,852.1 1698.0,851.0C1698.1,849.9 1698.6,848.8 1698.7,847.7C1698.7,846.6 1698.6,845.5 1698.5,844.4C1698.3,843.3 1698.0,842.2 1698.0,841.1C1698.0,840.0 1698.6,838.9 1698.6,837.8C1698.6,836.7 1698.1,835.6 1698.0,834.5C1697.9,833.4 1697.9,832.3 1698.0,831.2C1698.1,830.1 1698.5,829.0 1698.5,827.9C1698.6,826.8 1698.3,825.7 1698.3,824.6C1698.2,823.5 1697.9,822.4 1698.0,821.3C1698.1,820.2 1698.7,819.1 1698.7,817.9C1698.7,816.8 1698.1,815.7 1698.0,814.6C1697.9,813.5 1697.9,812.4 1698.0,811.3C1698.1,810.2 1698.4,809.1 1698.4,808.0C1698.4,806.9 1698.1,805.3 1698.1,804.7" fill="none" stroke="#5a46d8" stroke-width="3.9" stroke-linejoin="round" stroke-linecap="round"/>
<path d="M1698.4,1027.0C1698.7,1026.5 1699.6,1025.2 1700.2,1024.3C1700.8,1023.5 1701.5,1022.6 1702.0,1021.7C1702.6,1020.8 1702.9,1020.0 1703.5,1019.1C1704.0,1018.2 1704.7,1017.3 1705.2,1016.5C1705.8,1015.6 1706.1,1014.7 1706.6,1013.8C1707.1,1012.9 1707.4,1011.9 1708.5,1011.2C1709.5,1010.5 1711.7,1010.0 1712.9,1009.5C1714.1,1008.9 1714.5,1008.3 1715.6,1007.8C1716.8,1007.2 1718.6,1006.6 1719.8,1006.0C1721.0,1005.5 1721.7,1004.9 1722.8,1004.3C1723.9,1003.7 1725.1,1003.3 1726.4,1002.6C1727.6,1001.9 1729.3,1001.1 1730.3,1000.3C1731.2,999.5 1731.4,998.8 1732.2,998.0C1733.0,997.2 1734.2,996.5 1735.2,995.7C1736.3,994.9 1737.9,994.2 1738.7,993.4C1739.5,992.6 1739.6,992.0 1740.2,991.1C1740.7,990.3 1741.2,989.2 1742.0,988.3C1742.9,987.3 1744.6,986.3 1745.5,985.4C1746.3,984.4 1747.0,983.6 1747.2,982.5C1747.4,981.4 1746.7,980.1 1746.8,978.9C1746.8,977.7 1747.3,976.5 1747.4,975.3C1747.4,974.2 1747.3,973.0 1747.0,971.8C1746.8,970.6 1746.8,969.2 1746.0,968.2C1745.2,967.2 1742.9,966.6 1742.1,965.8C1741.3,965.0 1741.8,964.2 1741.2,963.4C1740.7,962.6 1739.4,962.0 1738.7,961.0C1738.1,960.0 1737.8,958.6 1737.4,957.4C1737.0,956.2 1736.9,954.9 1736.4,953.8C1735.8,952.8 1734.9,951.9 1734.3,951.0C1733.7,950.0 1732.9,949.1 1732.7,948.1C1732.5,947.1 1733.6,946.2 1733.1,945.2C1732.7,944.3 1730.5,943.3 1729.8,942.4C1729.1,941.4 1729.4,940.5 1728.8,939.5C1728.2,938.5 1726.6,937.6 1726.0,936.6C1725.4,935.7 1725.7,934.7 1725.2,933.8C1724.7,932.8 1723.7,931.9 1722.9,930.9C1722.0,929.9 1721.1,929.0 1720.3,928.0C1719.6,927.1 1718.7,926.1 1718.2,925.2C1717.7,924.2 1718.0,923.2 1717.4,922.3C1716.7,921.3 1715.1,920.3 1714.1,919.4C1713.2,918.5 1712.4,917.8 1711.6,917.0C1710.8,916.2 1710.1,915.4 1709.4,914.6C1708.6,913.8 1708.0,913.1 1707.1,912.3C1706.2,911.4 1704.9,910.3 1703.8,909.4C1702.6,908.4 1701.0,907.7 1700.2,906.5C1699.5,905.3 1699.6,903.5 1699.2,902.2C1698.8,900.9 1698.2,900.0 1698.0,898.9C1697.8,897.8 1698.0,896.6 1698.0,895.5C1698.0,894.4 1698.0,893.3 1698.0,892.2C1698.0,891.1 1698.2,889.9 1698.2,888.8C1698.2,887.7 1698.0,886.6 1698.0,885.5C1698.0,884.4 1698.0,883.3 1698.0,882.1C1698.0,881.0 1697.9,879.9 1698.0,878.8C1698.1,877.7 1698.3,876.6 1698.3,875.5C1698.3,874.3 1698.1,873.2 1698.0,872.1C1697.9,871.0 1697.9,869.9 1698.0,868.8C1698.1,867.6 1698.7,866.5 1698.9,865.4C1699.1,864.3 1699.1,863.2 1699.1,862.1C1699.0,861.0 1698.5,859.9 1698.4,858.8C1698.3,857.7 1698.5,856.7 1698.5,855.6C1698.4,854.5 1698.3,853.4 1698.3,852.3C1698.2,851.2 1698.0,850.2 1698.0,849.1C1698.0,848.0 1698.0,846.9 1698.0,845.8C1698.0,844.7 1697.8,843.7 1698.0,842.6C1698.2,841.5 1698.8,840.4 1698.9,839.3C1699.0,838.2 1698.5,837.1 1698.5,836.1C1698.5,835.0 1699.1,833.9 1699.0,832.8C1698.9,831.7 1698.1,830.6 1698.0,829.6C1697.9,828.5 1698.4,827.4 1698.4,826.3C1698.4,825.2 1698.0,824.1 1698.1,823.1C1698.1,822.0 1698.6,820.9 1698.6,819.8C1698.5,818.7 1698.1,817.6 1698.0,816.6C1697.9,815.5 1698.1,813.9 1698.1,813.3" fill="none" stroke="#5a7cae" stroke-width="3.9" stroke-linejoin="round" stroke-linecap="round"/>
<path d="M1698.4,1027.0C1698.6,1026.5 1699.3,1025.2 1699.7,1024.3C1700.2,1023.5 1700.4,1022.6 1701.1,1021.7C1701.7,1020.8 1703.3,1020.0 1703.6,1019.1C1703.9,1018.2 1702.4,1017.3 1702.7,1016.5C1703.0,1015.6 1704.5,1014.7 1705.2,1013.8C1705.9,1012.9 1706.2,1012.0 1707.0,1011.2C1707.7,1010.4 1708.9,1009.7 1709.7,1008.9C1710.4,1008.1 1710.9,1007.4 1711.6,1006.6C1712.3,1005.8 1713.0,1005.1 1713.8,1004.3C1714.6,1003.5 1715.4,1002.8 1716.3,1002.0C1717.1,1001.3 1718.4,1000.6 1718.9,999.7C1719.4,998.9 1718.8,997.8 1719.2,996.9C1719.7,995.9 1721.0,994.9 1721.8,994.0C1722.6,993.0 1723.4,992.1 1724.0,991.1C1724.6,990.2 1725.3,989.2 1725.7,988.3C1726.0,987.3 1725.9,986.5 1726.3,985.4C1726.6,984.3 1727.3,982.8 1727.7,981.6C1728.0,980.3 1728.2,979.0 1728.3,977.7C1728.4,976.5 1728.2,975.1 1728.1,973.9C1728.0,972.7 1728.1,971.5 1727.9,970.3C1727.7,969.1 1727.1,967.9 1726.9,966.7C1726.8,965.5 1727.1,964.4 1727.0,963.2C1727.0,962.0 1726.9,960.8 1726.7,959.6C1726.6,958.3 1725.8,957.0 1726.0,955.7C1726.1,954.5 1727.2,953.2 1727.8,951.9C1728.3,950.7 1729.0,949.3 1729.1,948.1C1729.2,946.9 1728.5,945.7 1728.1,944.5C1727.8,943.3 1727.5,942.1 1727.0,940.9C1726.6,939.7 1725.7,938.5 1725.5,937.3C1725.3,936.2 1725.8,934.8 1725.6,933.8C1725.4,932.7 1724.9,931.9 1724.5,930.9C1724.2,929.9 1723.6,929.0 1723.5,928.0C1723.3,927.1 1724.1,926.1 1723.7,925.2C1723.3,924.2 1721.5,923.2 1721.2,922.3C1720.9,921.3 1722.3,920.4 1722.1,919.4C1721.8,918.5 1719.9,917.6 1719.6,916.6C1719.3,915.5 1720.4,914.3 1720.4,913.1C1720.4,912.0 1719.9,910.8 1719.6,909.7C1719.2,908.5 1718.5,907.4 1718.4,906.2C1718.3,905.1 1719.0,903.9 1718.9,902.8C1718.8,901.6 1718.1,900.4 1717.9,899.3C1717.6,898.3 1717.4,897.4 1717.3,896.5C1717.2,895.5 1717.7,894.6 1717.2,893.6C1716.8,892.7 1715.5,891.7 1714.8,890.7C1714.2,889.8 1713.7,888.8 1713.4,887.9C1713.2,886.9 1713.3,886.0 1713.3,885.0C1713.3,884.1 1713.7,883.1 1713.4,882.1C1713.1,881.2 1711.9,880.2 1711.4,879.3C1710.9,878.3 1710.4,877.4 1710.4,876.4C1710.4,875.5 1711.3,874.5 1711.2,873.5C1711.1,872.6 1710.2,871.6 1709.7,870.7C1709.2,869.7 1708.4,868.8 1708.2,867.8C1708.0,866.8 1708.7,865.9 1708.3,864.9C1707.9,864.0 1706.4,863.0 1706.0,862.1C1705.6,861.1 1706.3,860.2 1705.9,859.2C1705.6,858.2 1704.3,857.3 1704.0,856.3C1703.6,855.4 1703.7,854.4 1703.7,853.5C1703.6,852.5 1703.8,851.6 1703.7,850.6C1703.6,849.6 1703.3,848.8 1703.1,847.7C1702.9,846.7 1702.8,845.3 1702.3,844.1C1701.8,842.9 1700.8,841.8 1700.4,840.6C1700.0,839.4 1700.4,838.2 1700.2,837.0C1699.9,835.8 1699.1,834.5 1698.8,833.4C1698.5,832.2 1698.2,831.2 1698.2,830.1C1698.3,829.0 1698.7,827.9 1699.0,826.8C1699.2,825.7 1699.6,824.6 1699.7,823.6C1699.8,822.5 1699.7,821.4 1699.6,820.3C1699.5,819.2 1699.1,818.1 1699.1,817.0C1699.1,815.9 1699.7,814.8 1699.6,813.7C1699.5,812.6 1698.6,811.0 1698.4,810.4" fill="none" stroke="#4f9d74" stroke-width="3.9" stroke-linejoin="round" stroke-linecap="round"/>
<path d="M1698.4,1027.0C1698.5,1026.4 1699.1,1024.9 1699.4,1023.8C1699.8,1022.8 1700.2,1021.7 1700.4,1020.7C1700.7,1019.6 1700.6,1018.6 1700.8,1017.5C1701.0,1016.5 1701.1,1015.4 1701.5,1014.3C1701.9,1013.3 1702.9,1012.2 1703.4,1011.2C1703.9,1010.2 1703.9,1009.3 1704.3,1008.3C1704.7,1007.4 1705.0,1006.4 1705.5,1005.5C1706.1,1004.5 1706.9,1003.5 1707.6,1002.6C1708.3,1001.6 1709.1,1000.7 1709.7,999.7C1710.2,998.8 1710.4,997.8 1710.7,996.9C1711.0,995.9 1710.9,994.9 1711.6,994.0C1712.2,993.0 1713.8,992.1 1714.6,991.1C1715.4,990.2 1716.2,989.2 1716.5,988.3C1716.7,987.3 1716.3,986.3 1716.3,985.4C1716.3,984.4 1716.5,983.6 1716.6,982.5C1716.7,981.5 1716.5,980.2 1717.0,979.1C1717.6,977.9 1719.9,976.8 1720.1,975.6C1720.3,974.5 1718.1,973.3 1718.2,972.2C1718.3,971.0 1720.3,969.9 1720.8,968.7C1721.3,967.6 1721.2,966.4 1721.0,965.3C1720.7,964.3 1719.6,963.4 1719.5,962.4C1719.3,961.5 1720.6,960.5 1720.2,959.6C1719.8,958.6 1717.7,957.7 1717.2,956.7C1716.6,955.7 1716.5,954.8 1716.8,953.8C1717.1,952.9 1718.5,951.9 1718.8,951.0C1719.1,950.0 1718.1,949.1 1718.6,948.1C1719.1,947.1 1721.6,946.2 1722.1,945.2C1722.6,944.3 1721.6,943.4 1721.4,942.4C1721.2,941.3 1721.0,940.1 1720.8,938.9C1720.6,937.8 1720.1,936.6 1720.2,935.5C1720.4,934.3 1721.6,933.2 1721.7,932.0C1721.8,930.9 1721.0,929.7 1720.9,928.6C1720.8,927.5 1721.2,926.3 1721.1,925.2C1721.1,924.0 1720.8,922.9 1720.7,921.8C1720.7,920.7 1720.7,919.6 1720.7,918.5C1720.7,917.4 1720.9,916.2 1720.7,915.1C1720.5,914.0 1719.9,912.9 1719.4,911.8C1718.8,910.7 1717.7,909.5 1717.5,908.4C1717.2,907.3 1718.0,906.2 1717.8,905.1C1717.6,904.0 1716.8,902.9 1716.4,901.7C1716.0,900.6 1715.5,899.5 1715.5,898.4C1715.4,897.3 1716.2,896.2 1716.4,895.0C1716.6,893.9 1716.9,892.8 1716.6,891.7C1716.3,890.6 1714.9,889.5 1714.5,888.4C1714.1,887.2 1714.4,886.1 1714.3,885.0C1714.2,883.9 1713.9,882.8 1713.9,881.7C1713.9,880.6 1714.5,879.5 1714.4,878.5C1714.3,877.4 1713.5,876.3 1713.2,875.2C1713.0,874.1 1713.0,873.0 1712.9,871.9C1712.8,870.8 1713.0,869.7 1712.7,868.6C1712.4,867.5 1711.2,866.4 1711.0,865.3C1710.8,864.3 1711.5,863.2 1711.6,862.1C1711.7,861.0 1712.0,859.9 1711.5,858.8C1711.0,857.7 1708.8,856.6 1708.7,855.5C1708.5,854.4 1710.6,853.3 1710.8,852.2C1711.0,851.1 1710.3,850.1 1709.7,849.0C1709.2,847.9 1707.8,846.8 1707.5,845.7C1707.3,844.6 1708.0,843.5 1708.1,842.4C1708.2,841.3 1708.2,840.2 1708.2,839.1C1708.3,838.0 1708.8,836.9 1708.5,835.8C1708.1,834.8 1706.6,833.7 1706.2,832.6C1705.9,831.5 1706.2,830.4 1706.2,829.3C1706.2,828.2 1706.6,827.1 1706.5,826.0C1706.4,824.9 1705.8,823.8 1705.7,822.7C1705.5,821.6 1705.9,820.6 1705.5,819.5C1705.1,818.4 1703.7,817.3 1703.4,816.2C1703.1,815.1 1703.8,814.0 1703.6,812.9C1703.3,811.8 1701.9,810.7 1701.8,809.6C1701.7,808.5 1702.8,807.4 1703.0,806.4C1703.1,805.3 1703.0,804.2 1702.9,803.1C1702.7,802.0 1702.1,800.9 1701.9,799.8C1701.7,798.7 1702.1,797.6 1701.7,796.5C1701.4,795.4 1699.8,794.4 1699.8,793.2C1699.8,792.1 1701.3,790.9 1701.6,789.8C1701.9,788.7 1701.6,787.5 1701.5,786.4C1701.5,785.2 1701.6,784.1 1701.2,782.9C1700.9,781.8 1699.8,780.6 1699.6,779.5C1699.4,778.3 1700.3,777.2 1700.1,776.0C1699.9,774.9 1698.5,773.7 1698.5,772.6C1698.5,771.4 1699.9,770.3 1700.1,769.2C1700.3,768.0 1700.1,766.9 1699.8,765.7C1699.5,764.6 1698.3,763.4 1698.1,762.3C1697.9,761.1 1698.3,759.4 1698.4,758.8" fill="none" stroke="#5bd04c" stroke-width="3.9" stroke-linejoin="round" stroke-linecap="round"/>
<path d="M1698.4,1027.0C1698.5,1026.4 1699.0,1024.8 1699.3,1023.7C1699.6,1022.7 1700.1,1021.6 1700.2,1020.5C1700.3,1019.4 1699.6,1018.4 1699.9,1017.3C1700.2,1016.2 1701.3,1015.1 1701.9,1014.1C1702.5,1013.0 1702.9,1012.1 1703.4,1011.2C1703.9,1010.2 1704.9,1009.3 1705.2,1008.3C1705.6,1007.4 1705.5,1006.4 1705.5,1005.5C1705.5,1004.5 1704.7,1003.5 1705.3,1002.6C1705.8,1001.6 1708.4,1000.7 1708.8,999.7C1709.2,998.8 1707.3,997.8 1707.6,996.9C1708.0,995.9 1710.5,994.9 1710.9,994.0C1711.3,993.0 1710.0,992.1 1710.1,991.1C1710.2,990.2 1711.0,989.2 1711.6,988.3C1712.3,987.3 1713.6,986.3 1713.7,985.4C1713.9,984.4 1712.6,983.5 1712.5,982.5C1712.4,981.6 1712.8,980.6 1713.2,979.6C1713.7,978.7 1714.7,977.9 1715.1,976.8C1715.4,975.7 1715.2,974.2 1715.2,973.0C1715.2,971.7 1715.3,970.4 1715.1,969.1C1714.9,967.9 1714.0,966.4 1714.1,965.3C1714.3,964.2 1715.7,963.4 1716.0,962.4C1716.2,961.5 1715.3,960.5 1715.7,959.6C1716.1,958.6 1718.0,957.7 1718.1,956.7C1718.3,955.7 1716.7,955.0 1716.6,953.8C1716.5,952.7 1717.1,951.3 1717.5,950.0C1717.9,948.7 1718.7,947.5 1718.9,946.2C1719.1,944.9 1718.6,943.5 1718.7,942.4C1718.7,941.3 1719.3,940.5 1719.1,939.5C1719.0,938.5 1718.4,937.6 1718.0,936.6C1717.6,935.7 1717.0,934.7 1716.8,933.8C1716.6,932.8 1717.2,931.9 1716.9,930.9C1716.6,929.9 1715.5,929.1 1715.2,928.0C1714.9,927.0 1715.0,925.6 1715.2,924.4C1715.3,923.2 1715.6,922.1 1716.1,920.9C1716.6,919.7 1717.7,918.5 1718.2,917.3C1718.7,916.1 1719.3,914.8 1719.1,913.7C1718.8,912.5 1716.8,911.5 1716.6,910.4C1716.4,909.3 1717.9,908.2 1718.1,907.1C1718.4,906.0 1718.4,904.9 1718.1,903.9C1717.8,902.8 1716.6,901.7 1716.3,900.6C1716.0,899.5 1716.3,898.4 1716.0,897.3C1715.8,896.2 1714.7,895.1 1714.5,894.0C1714.4,892.9 1715.1,891.8 1715.1,890.7C1715.1,889.7 1714.7,888.6 1714.6,887.5C1714.5,886.4 1714.9,885.3 1714.5,884.2C1714.1,883.1 1712.3,882.0 1712.4,880.9C1712.4,879.8 1714.7,878.7 1714.8,877.6C1714.9,876.5 1713.4,875.5 1713.0,874.4C1712.6,873.3 1712.2,872.2 1712.3,871.1C1712.3,870.0 1713.1,868.9 1713.0,867.8C1713.0,866.7 1712.2,865.6 1711.9,864.5C1711.6,863.4 1711.4,862.3 1711.3,861.2C1711.2,860.2 1711.8,859.1 1711.5,858.0C1711.1,856.9 1709.4,855.8 1709.2,854.7C1709.0,853.6 1710.2,852.5 1710.2,851.4C1710.2,850.3 1709.4,849.2 1709.4,848.1C1709.5,847.0 1710.5,845.9 1710.6,844.9C1710.8,843.8 1710.6,842.7 1710.2,841.6C1709.7,840.6 1708.2,839.5 1707.9,838.4C1707.5,837.3 1708.3,836.3 1708.1,835.2C1707.9,834.1 1706.9,833.0 1706.7,832.0C1706.6,830.9 1707.1,829.8 1707.3,828.7C1707.5,827.7 1708.0,826.6 1708.1,825.5C1708.2,824.4 1708.3,823.4 1708.0,822.3C1707.7,821.2 1706.7,820.1 1706.3,819.1C1705.9,818.0 1705.8,816.9 1705.5,815.8C1705.2,814.7 1704.7,813.7 1704.8,812.6C1704.8,811.5 1705.4,810.4 1705.7,809.4C1705.9,808.3 1706.6,807.2 1706.2,806.1C1705.9,805.1 1703.7,804.0 1703.5,802.9C1703.3,801.8 1705.3,800.8 1705.1,799.7C1704.9,798.6 1702.9,797.5 1702.5,796.5C1702.1,795.4 1702.6,794.3 1702.6,793.2C1702.6,792.2 1702.4,791.1 1702.5,790.0C1702.7,788.9 1703.8,787.9 1703.7,786.8C1703.7,785.7 1702.7,784.6 1702.5,783.6C1702.2,782.5 1702.3,781.4 1702.4,780.3C1702.5,779.3 1703.2,778.2 1703.0,777.1C1702.8,776.0 1701.3,775.0 1701.3,773.9C1701.3,772.8 1703.0,771.7 1703.0,770.7C1702.9,769.6 1701.2,768.5 1701.0,767.4C1700.8,766.3 1701.9,765.2 1701.9,764.1C1701.9,763.0 1701.1,761.9 1700.9,760.7C1700.6,759.6 1700.4,758.5 1700.5,757.4C1700.5,756.3 1701.2,755.2 1701.2,754.0C1701.3,752.9 1700.9,751.8 1700.7,750.7C1700.6,749.6 1700.4,748.5 1700.3,747.4C1700.2,746.2 1700.2,745.1 1700.2,744.0C1700.2,742.9 1700.5,741.8 1700.3,740.7C1700.1,739.5 1699.2,738.4 1698.9,737.3C1698.7,736.2 1698.7,735.1 1698.8,734.0C1699.0,732.9 1699.8,731.7 1699.9,730.6C1699.9,729.5 1699.3,727.8 1699.2,727.3" fill="none" stroke="#52f514" stroke-width="3.9" stroke-linejoin="round" stroke-linecap="round"/>
<rect x="1694.9" y="707.8" width="4.3" height="324.9" fill="#000"/>
<rect x="1694.9" y="1028.7" width="122.8" height="4.0" fill="#000"/>
<text x="1682.6" y="1074.3" font-size="26" textLength="143.5" lengthAdjust="spacingAndGlyphs">PST density</text>
</g>
<g id="caption">
<text x="49.0" y="1183.0" font-size="28" fill="#a0382b" font-weight="bold" textLength="117.0" lengthAdjust="spacingAndGlyphs">Figure 1.</text>
<text x="187.0" y="1183.0" font-size="28" fill="#a0382b" font-weight="bold" textLength="818.0" lengthAdjust="spacingAndGlyphs">The SFI Task Produces Systematic Changes in Lever PST</text>
<text x="49.0" y="1220.2" font-size="25.4" textLength="1580.6" lengthAdjust="spacingAndGlyphs">(A) Task structure. The following color code will be commonly used: blue represents short FIs, and green represents longer FIs.</text>
<text x="49.0" y="1258.0" font-size="25.4" textLength="1745.6" lengthAdjust="spacingAndGlyphs">(B) Example of lever pressing behavior in a single session of the SFI task. Gray markers indicate a lever press; red markers indicate the PST.</text>
<text x="49.0" y="1295.8" font-size="25.4" textLength="1406.6" lengthAdjust="spacingAndGlyphs">(C) Average lever pressing rate in each of the five FIs, aligned on preceding reward. Dashed lines represent SEM.</text>
<text x="49.0" y="1333.6" font-size="25.4" textLength="1959.5" lengthAdjust="spacingAndGlyphs">(D) Average rate of lever pressing in each block, aligned on PST. Traces are plotted on a solid line for the period for which more than half of the trials contribute data</text>
<text x="49.0" y="1371.4" font-size="25.4" textLength="1623.4" lengthAdjust="spacingAndGlyphs">and on a dotted line after that point. Shaded patches along the horizontal axis represent SEM. 1 s bins are indicated in (C) and (D).</text>
<text x="49.0" y="1409.2" font-size="25.4" textLength="1925.2" lengthAdjust="spacingAndGlyphs">(E) Median and interquartile range of PST for each of the five FIs. Smoothed density functions depicting the full distributions of PST are shown on the right.</text>
<text x="49" y="1447.0" font-size="25.4" textLength="239.8" lengthAdjust="spacingAndGlyphs">See also <tspan fill="#2a8abf">Figure S1</tspan>.</text>
</g>
</svg>
</body></html>
